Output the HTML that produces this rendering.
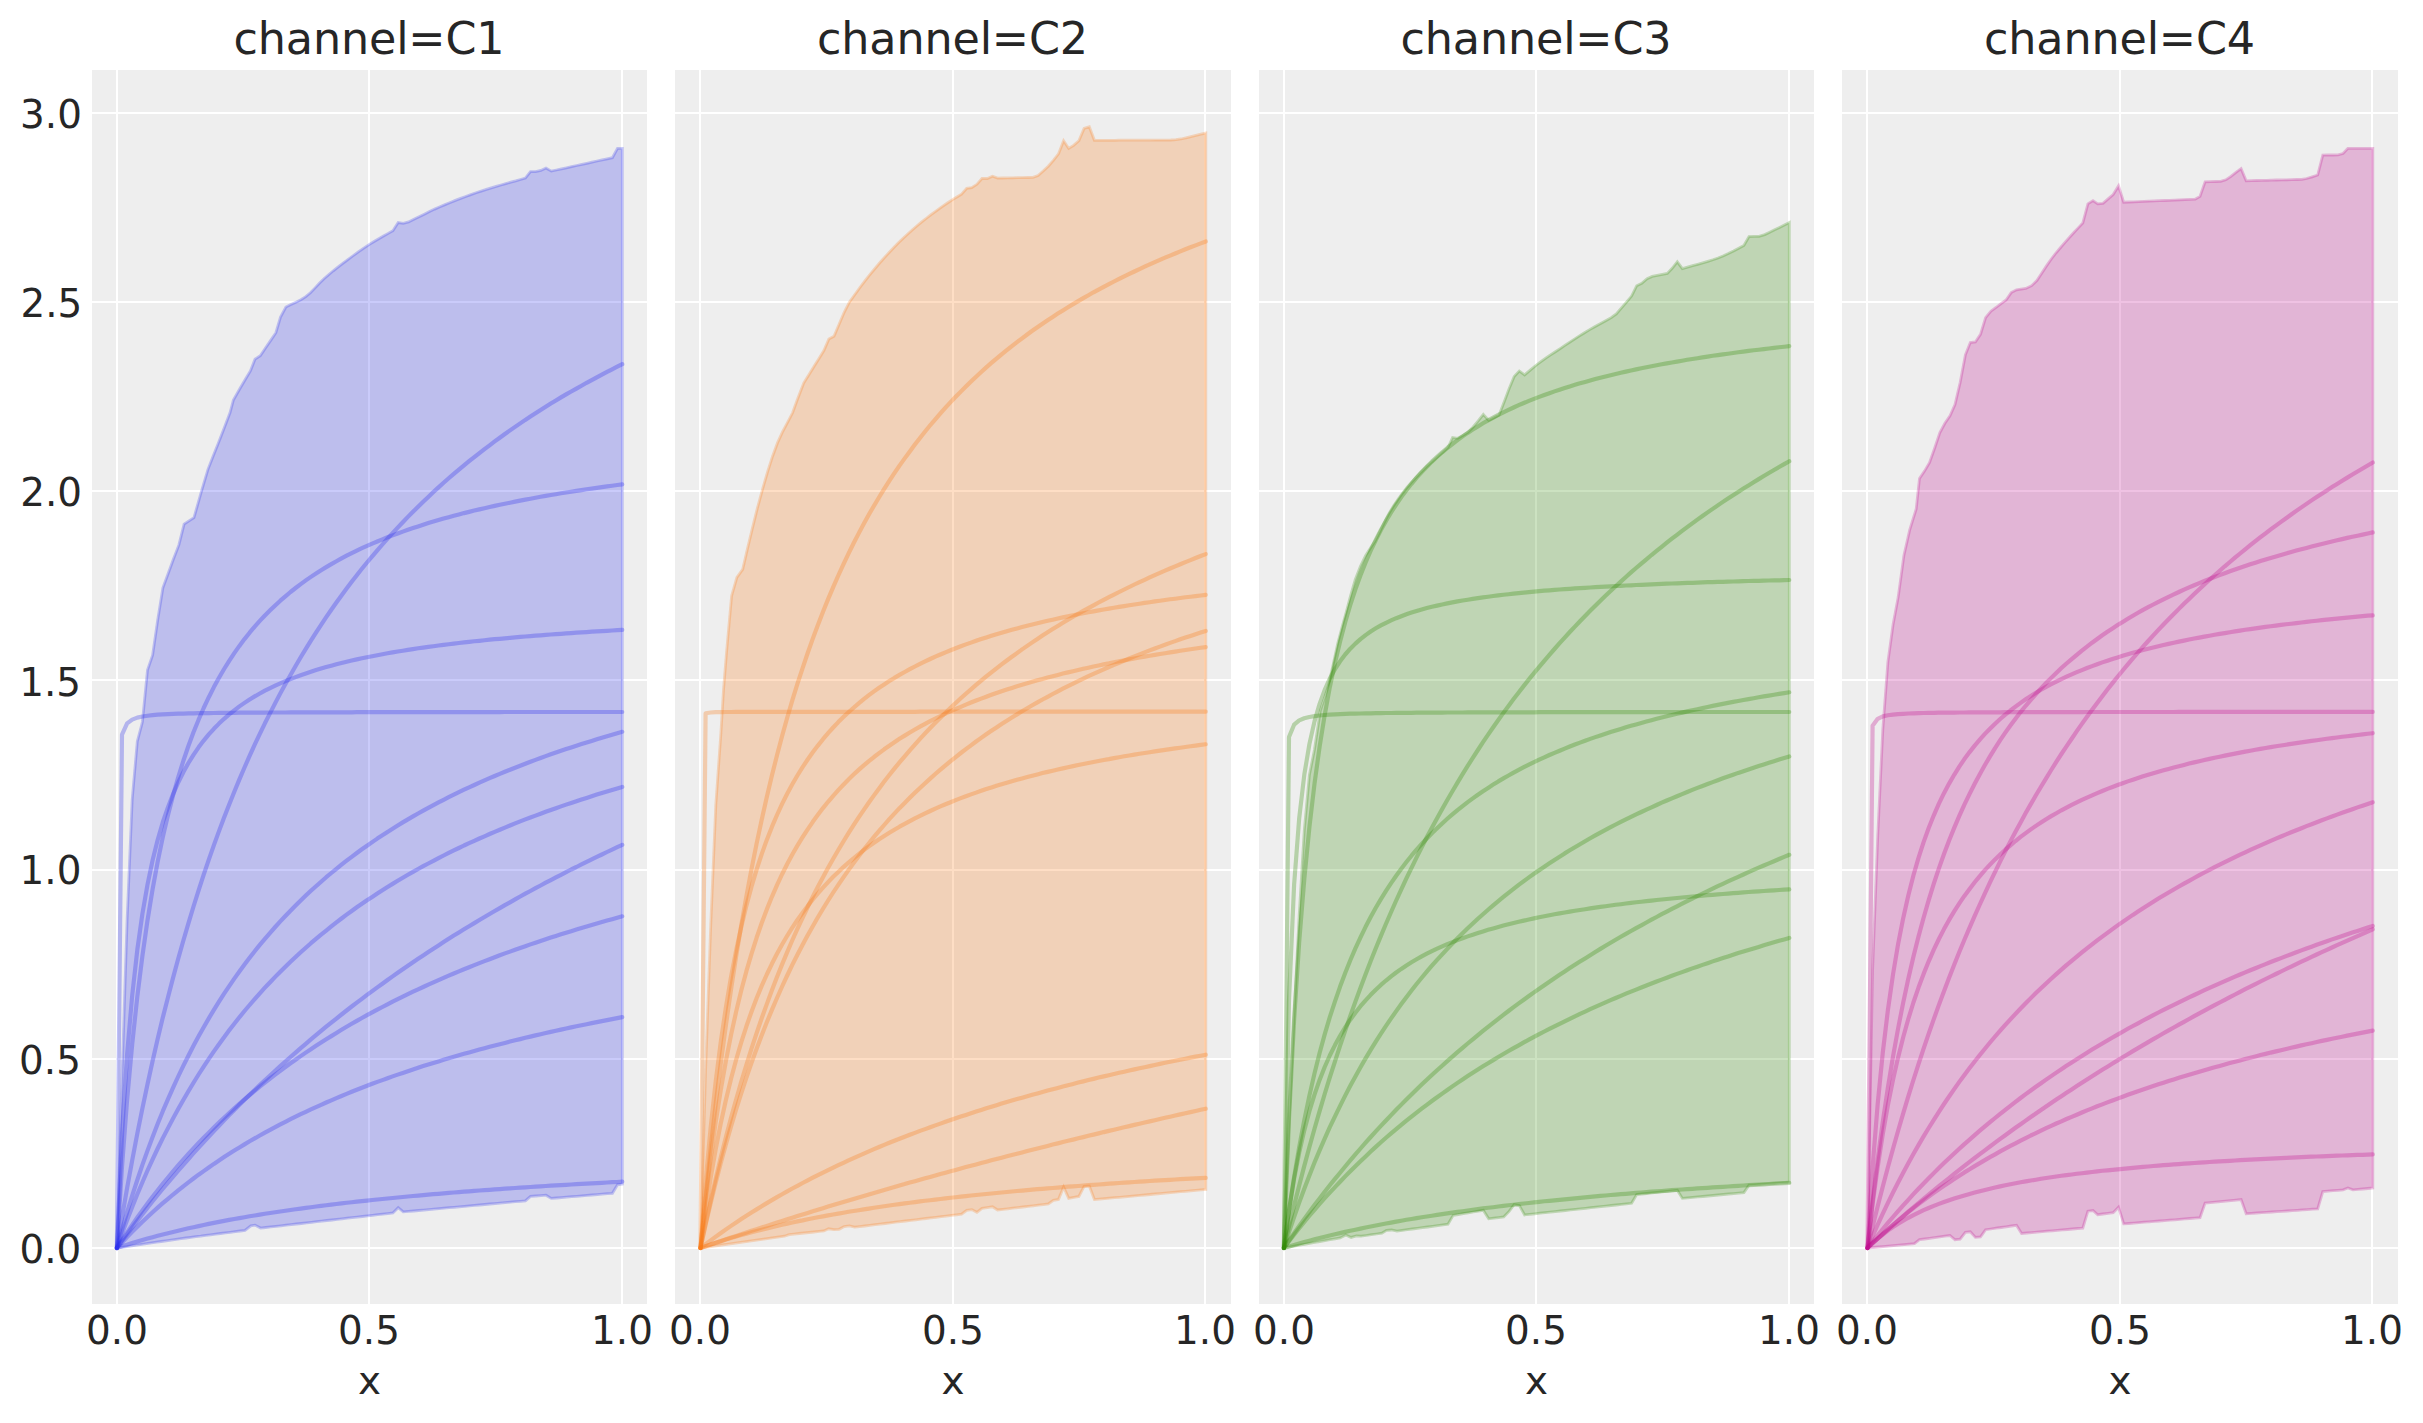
<!DOCTYPE html>
<html lang="en"><head><meta charset="utf-8"><title>Saturation curves by channel</title>
<style>html,body{margin:0;padding:0;background:#ffffff}svg{display:block}text{font-family:"DejaVu Sans","Liberation Sans",sans-serif;fill:#262626}.t{font-size:44.44px;letter-spacing:-0.14px}.k{font-size:38.89px}</style></head>
<body>
<svg width="2423" height="1423" viewBox="0 0 2423 1423">
<rect width="2423" height="1423" fill="#ffffff"/>
<g id="panel1">
<rect x="92" y="70" width="555" height="1234" fill="#eeeeee"/>
<g fill="#ffffff" shape-rendering="crispEdges"><rect x="116" y="70" width="2" height="1234"/><rect x="368" y="70" width="2" height="1234"/><rect x="621" y="70" width="2" height="1234"/><rect x="92" y="1247" width="555" height="2"/><rect x="92" y="1058" width="555" height="2"/><rect x="92" y="869" width="555" height="2"/><rect x="92" y="679" width="555" height="2"/><rect x="92" y="490" width="555" height="2"/><rect x="92" y="301" width="555" height="2"/><rect x="92" y="112" width="555" height="2"/></g>
<polygon points="116.9,1248.0 122.0,1078.0 127.1,920.0 132.2,799.3 137.3,741.5 142.4,722.0 147.5,670.1 152.6,655.1 157.7,620.0 162.9,587.8 168.0,573.9 173.1,560.0 178.9,544.9 184.1,524.1 189.0,520.9 194.0,517.6 201.0,492.8 207.9,469.6 213.1,456.3 218.4,442.9 224.2,427.9 230.0,412.8 233.4,400.0 240.4,387.7 245.4,379.3 250.4,371.0 255.0,359.2 260.3,355.7 265.5,348.0 270.7,340.4 275.9,332.7 280.5,317.0 285.9,307.0 290.9,304.6 295.9,302.2 300.9,299.7 305.8,296.6 310.4,292.8 314.9,288.1 319.4,283.2 324.0,278.7 328.6,274.7 333.3,270.8 337.9,267.2 342.5,263.6 347.2,260.1 352.7,256.0 358.3,251.9 363.8,248.1 369.4,244.4 374.1,241.5 378.8,238.7 383.5,236.0 388.2,233.4 392.9,230.7 398.2,222.6 403.3,223.3 408.6,221.9 413.9,219.3 419.1,216.8 424.3,214.2 429.5,211.6 434.7,209.1 440.0,206.8 445.1,204.6 450.3,202.5 455.4,200.4 460.6,198.4 465.8,196.5 470.9,194.6 476.1,192.8 481.2,191.1 486.4,189.4 491.3,187.9 496.2,186.4 501.0,185.0 505.9,183.6 510.8,182.2 515.7,180.9 520.5,179.5 525.4,178.1 530.5,171.6 535.6,171.6 540.9,170.4 546.0,168.1 551.3,171.1 556.4,170.0 561.5,168.9 566.6,167.8 571.7,166.6 576.8,165.5 581.9,164.4 587.0,163.3 592.0,162.2 597.1,161.0 602.2,159.9 607.3,158.8 612.4,157.7 617.5,148.4 622.3,148.4 622.3,1184.1 617.5,1184.8 612.4,1193.3 607.3,1193.7 602.2,1194.1 597.1,1194.6 592.0,1195.0 587.0,1195.4 581.9,1195.9 576.8,1196.3 571.7,1196.7 566.6,1197.1 561.5,1197.6 556.4,1198.0 551.3,1198.4 546.0,1195.2 540.9,1195.6 535.7,1196.0 530.5,1196.4 525.4,1200.8 520.3,1201.3 515.2,1201.7 510.2,1202.2 505.1,1202.6 500.0,1203.1 494.9,1203.6 489.8,1204.0 484.7,1204.5 479.6,1205.0 474.5,1205.4 469.5,1205.9 464.4,1206.4 459.3,1206.8 454.2,1207.3 449.1,1207.7 444.0,1208.2 438.9,1208.7 433.9,1209.1 428.8,1209.6 423.7,1210.1 418.6,1210.5 413.5,1211.0 408.4,1211.4 403.3,1211.9 398.2,1207.7 392.9,1213.0 387.8,1213.6 382.7,1214.2 377.7,1214.7 372.6,1215.3 367.5,1215.9 362.4,1216.5 357.3,1217.1 352.2,1217.6 347.1,1218.2 342.0,1218.8 336.9,1219.4 331.9,1220.0 326.8,1220.5 321.7,1221.1 316.6,1221.7 311.5,1222.3 306.4,1222.9 301.3,1223.5 296.2,1224.0 291.1,1224.6 286.1,1225.2 281.0,1225.8 275.9,1226.4 270.8,1226.9 265.7,1227.5 260.6,1228.1 255.0,1225.1 250.8,1225.8 245.0,1230.4 240.1,1231.0 235.1,1231.7 230.2,1232.3 225.3,1232.9 220.4,1233.5 215.4,1234.2 210.5,1234.8 205.6,1235.4 200.7,1236.1 195.7,1236.7 190.8,1237.4 185.9,1238.0 181.0,1238.7 176.0,1239.4 171.1,1240.1 166.2,1240.8 161.2,1241.5 156.3,1242.2 151.4,1242.9 146.5,1243.6 141.5,1244.4 136.6,1245.1 131.7,1245.8 126.8,1246.6 121.8,1247.3 116.9,1248.0" fill="#2a2eec" fill-opacity="0.25" stroke="#2a2eec" stroke-opacity="0.25" stroke-width="2.78" stroke-linejoin="miter"/>
<g fill="none" stroke="#2a2eec" stroke-opacity="0.3" stroke-width="4.17" stroke-linecap="round" stroke-linejoin="round">
<polyline points="116.9,1248.0 122.0,1217.3 127.1,1188.1 132.2,1160.3 137.3,1133.7 142.4,1108.4 147.5,1084.2 152.6,1061.0 157.7,1038.8 162.8,1017.6 168.0,997.2 173.1,977.6 178.2,958.8 183.3,940.7 188.4,923.3 193.5,906.5 198.6,890.3 203.7,874.7 208.8,859.7 213.9,845.1 219.0,831.1 224.1,817.5 229.2,804.4 234.3,791.7 239.4,779.4 244.5,767.5 249.6,755.9 254.7,744.7 259.8,733.9 264.9,723.3 270.1,713.1 275.2,703.1 280.3,693.4 285.4,684.0 290.5,674.9 295.6,666.0 300.7,657.3 305.8,648.9 310.9,640.6 316.0,632.6 321.1,624.8 326.2,617.2 331.3,609.8 336.4,602.5 341.5,595.5 346.6,588.6 351.7,581.8 356.8,575.2 361.9,568.8 367.0,562.5 372.2,556.4 377.3,550.4 382.4,544.5 387.5,538.7 392.6,533.1 397.7,527.6 402.8,522.2 407.9,516.9 413.0,511.8 418.1,506.7 423.2,501.7 428.3,496.9 433.4,492.1 438.5,487.4 443.6,482.8 448.7,478.3 453.8,473.9 458.9,469.6 464.0,465.4 469.1,461.2 474.3,457.1 479.4,453.1 484.5,449.1 489.6,445.3 494.7,441.4 499.8,437.7 504.9,434.0 510.0,430.4 515.1,426.9 520.2,423.4 525.3,419.9 530.4,416.6 535.5,413.3 540.6,410.0 545.7,406.8 550.8,403.6 555.9,400.5 561.0,397.4 566.1,394.4 571.2,391.5 576.4,388.6 581.5,385.7 586.6,382.8 591.7,380.1 596.8,377.3 601.9,374.6 607.0,371.9 612.1,369.3 617.2,366.7 622.3,364.2"/>
<polyline points="116.9,1248.0 122.0,1166.9 127.1,1100.1 132.2,1044.2 137.3,996.7 142.4,955.9 147.5,920.4 152.6,889.2 157.7,861.7 162.8,837.1 168.0,815.1 173.1,795.3 178.2,777.3 183.3,761.0 188.4,746.0 193.5,732.3 198.6,719.7 203.7,708.0 208.8,697.2 213.9,687.1 219.0,677.8 224.1,669.0 229.2,660.8 234.3,653.1 239.4,645.9 244.5,639.1 249.6,632.7 254.7,626.6 259.8,620.9 264.9,615.5 270.1,610.3 275.2,605.4 280.3,600.7 285.4,596.3 290.5,592.0 295.6,588.0 300.7,584.1 305.8,580.4 310.9,576.9 316.0,573.5 321.1,570.2 326.2,567.1 331.3,564.1 336.4,561.2 341.5,558.4 346.6,555.7 351.7,553.1 356.8,550.6 361.9,548.2 367.0,545.9 372.2,543.6 377.3,541.5 382.4,539.4 387.5,537.3 392.6,535.4 397.7,533.5 402.8,531.6 407.9,529.8 413.0,528.1 418.1,526.4 423.2,524.7 428.3,523.1 433.4,521.6 438.5,520.1 443.6,518.6 448.7,517.2 453.8,515.8 458.9,514.5 464.0,513.1 469.1,511.9 474.3,510.6 479.4,509.4 484.5,508.2 489.6,507.0 494.7,505.9 499.8,504.8 504.9,503.7 510.0,502.7 515.1,501.6 520.2,500.6 525.3,499.6 530.4,498.7 535.5,497.7 540.6,496.8 545.7,495.9 550.8,495.0 555.9,494.2 561.0,493.3 566.1,492.5 571.2,491.7 576.4,490.9 581.5,490.1 586.6,489.3 591.7,488.6 596.8,487.9 601.9,487.1 607.0,486.4 612.1,485.7 617.2,485.0 622.3,484.4"/>
<polyline points="116.9,1248.0 122.0,1134.2 127.1,1054.4 132.2,995.4 137.3,949.9 142.4,913.9 147.5,884.6 152.6,860.3 157.7,839.8 162.8,822.3 168.0,807.2 173.1,794.1 178.2,782.5 183.3,772.2 188.4,763.0 193.5,754.8 198.6,747.3 203.7,740.6 208.8,734.4 213.9,728.8 219.0,723.6 224.1,718.8 229.2,714.4 234.3,710.3 239.4,706.4 244.5,702.9 249.6,699.5 254.7,696.4 259.8,693.5 264.9,690.7 270.1,688.1 275.2,685.7 280.3,683.4 285.4,681.2 290.5,679.1 295.6,677.1 300.7,675.2 305.8,673.5 310.9,671.8 316.0,670.1 321.1,668.6 326.2,667.1 331.3,665.7 336.4,664.3 341.5,663.0 346.6,661.7 351.7,660.5 356.8,659.4 361.9,658.3 367.0,657.2 372.2,656.2 377.3,655.2 382.4,654.2 387.5,653.3 392.6,652.4 397.7,651.5 402.8,650.7 407.9,649.9 413.0,649.1 418.1,648.3 423.2,647.6 428.3,646.9 433.4,646.2 438.5,645.5 443.6,644.9 448.7,644.2 453.8,643.6 458.9,643.0 464.0,642.4 469.1,641.9 474.3,641.3 479.4,640.8 484.5,640.2 489.6,639.7 494.7,639.2 499.8,638.8 504.9,638.3 510.0,637.8 515.1,637.4 520.2,636.9 525.3,636.5 530.4,636.1 535.5,635.7 540.6,635.3 545.7,634.9 550.8,634.5 555.9,634.1 561.0,633.8 566.1,633.4 571.2,633.1 576.4,632.7 581.5,632.4 586.6,632.1 591.7,631.7 596.8,631.4 601.9,631.1 607.0,630.8 612.1,630.5 617.2,630.2 622.3,629.9"/>
<polyline points="116.9,1248.0 122.0,734.6 127.1,723.4 132.2,719.6 137.3,717.6 142.4,716.5 147.5,715.7 152.6,715.1 157.7,714.7 162.8,714.4 168.0,714.1 173.1,713.9 178.2,713.7 183.3,713.6 188.4,713.4 193.5,713.3 198.6,713.2 203.7,713.1 208.8,713.1 213.9,713.0 219.0,712.9 224.1,712.9 229.2,712.8 234.3,712.8 239.4,712.7 244.5,712.7 249.6,712.7 254.7,712.6 259.8,712.6 264.9,712.6 270.1,712.5 275.2,712.5 280.3,712.5 285.4,712.5 290.5,712.4 295.6,712.4 300.7,712.4 305.8,712.4 310.9,712.4 316.0,712.3 321.1,712.3 326.2,712.3 331.3,712.3 336.4,712.3 341.5,712.3 346.6,712.3 351.7,712.3 356.8,712.2 361.9,712.2 367.0,712.2 372.2,712.2 377.3,712.2 382.4,712.2 387.5,712.2 392.6,712.2 397.7,712.2 402.8,712.2 407.9,712.2 413.0,712.1 418.1,712.1 423.2,712.1 428.3,712.1 433.4,712.1 438.5,712.1 443.6,712.1 448.7,712.1 453.8,712.1 458.9,712.1 464.0,712.1 469.1,712.1 474.3,712.1 479.4,712.1 484.5,712.1 489.6,712.1 494.7,712.1 499.8,712.1 504.9,712.0 510.0,712.0 515.1,712.0 520.2,712.0 525.3,712.0 530.4,712.0 535.5,712.0 540.6,712.0 545.7,712.0 550.8,712.0 555.9,712.0 561.0,712.0 566.1,712.0 571.2,712.0 576.4,712.0 581.5,712.0 586.6,712.0 591.7,712.0 596.8,712.0 601.9,712.0 607.0,712.0 612.1,712.0 617.2,712.0 622.3,712.0"/>
<polyline points="116.9,1248.0 122.0,1229.7 127.1,1212.3 132.2,1195.7 137.3,1180.0 142.4,1164.9 147.5,1150.6 152.6,1136.9 157.7,1123.8 162.8,1111.2 168.0,1099.2 173.1,1087.6 178.2,1076.5 183.3,1065.9 188.4,1055.7 193.5,1045.8 198.6,1036.3 203.7,1027.2 208.8,1018.4 213.9,1009.9 219.0,1001.7 224.1,993.7 229.2,986.1 234.3,978.6 239.4,971.5 244.5,964.5 249.6,957.8 254.7,951.3 259.8,944.9 264.9,938.8 270.1,932.8 275.2,927.0 280.3,921.4 285.4,916.0 290.5,910.7 295.6,905.5 300.7,900.5 305.8,895.6 310.9,890.8 316.0,886.2 321.1,881.7 326.2,877.2 331.3,873.0 336.4,868.8 341.5,864.7 346.6,860.7 351.7,856.8 356.8,853.0 361.9,849.3 367.0,845.7 372.2,842.1 377.3,838.6 382.4,835.3 387.5,831.9 392.6,828.7 397.7,825.5 402.8,822.4 407.9,819.4 413.0,816.4 418.1,813.5 423.2,810.6 428.3,807.8 433.4,805.1 438.5,802.4 443.6,799.8 448.7,797.2 453.8,794.7 458.9,792.2 464.0,789.7 469.1,787.3 474.3,785.0 479.4,782.7 484.5,780.4 489.6,778.2 494.7,776.0 499.8,773.9 504.9,771.8 510.0,769.7 515.1,767.7 520.2,765.7 525.3,763.7 530.4,761.8 535.5,759.9 540.6,758.0 545.7,756.1 550.8,754.3 555.9,752.6 561.0,750.8 566.1,749.1 571.2,747.4 576.4,745.7 581.5,744.1 586.6,742.5 591.7,740.9 596.8,739.3 601.9,737.7 607.0,736.2 612.1,734.7 617.2,733.2 622.3,731.8"/>
<polyline points="116.9,1248.0 122.0,1233.7 127.1,1220.1 132.2,1206.9 137.3,1194.3 142.4,1182.2 147.5,1170.5 152.6,1159.3 157.7,1148.5 162.8,1138.1 168.0,1128.1 173.1,1118.4 178.2,1109.0 183.3,1099.9 188.4,1091.2 193.5,1082.7 198.6,1074.5 203.7,1066.6 208.8,1058.9 213.9,1051.4 219.0,1044.2 224.1,1037.2 229.2,1030.3 234.3,1023.7 239.4,1017.3 244.5,1011.0 249.6,1005.0 254.7,999.1 259.8,993.3 264.9,987.7 270.1,982.2 275.2,976.9 280.3,971.7 285.4,966.7 290.5,961.8 295.6,957.0 300.7,952.3 305.8,947.7 310.9,943.2 316.0,938.9 321.1,934.6 326.2,930.5 331.3,926.4 336.4,922.4 341.5,918.5 346.6,914.7 351.7,911.0 356.8,907.3 361.9,903.8 367.0,900.3 372.2,896.9 377.3,893.5 382.4,890.2 387.5,887.0 392.6,883.9 397.7,880.8 402.8,877.8 407.9,874.8 413.0,871.9 418.1,869.0 423.2,866.2 428.3,863.5 433.4,860.8 438.5,858.1 443.6,855.5 448.7,852.9 453.8,850.4 458.9,848.0 464.0,845.5 469.1,843.2 474.3,840.8 479.4,838.5 484.5,836.3 489.6,834.0 494.7,831.8 499.8,829.7 504.9,827.6 510.0,825.5 515.1,823.4 520.2,821.4 525.3,819.4 530.4,817.5 535.5,815.6 540.6,813.7 545.7,811.8 550.8,810.0 555.9,808.2 561.0,806.4 566.1,804.6 571.2,802.9 576.4,801.2 581.5,799.5 586.6,797.9 591.7,796.2 596.8,794.6 601.9,793.0 607.0,791.5 612.1,789.9 617.2,788.4 622.3,786.9"/>
<polyline points="116.9,1248.0 122.0,1241.0 127.1,1234.2 132.2,1227.4 137.3,1220.8 142.4,1214.2 147.5,1207.7 152.6,1201.3 157.7,1195.0 162.8,1188.8 168.0,1182.7 173.1,1176.6 178.2,1170.7 183.3,1164.8 188.4,1159.0 193.5,1153.2 198.6,1147.6 203.7,1142.0 208.8,1136.5 213.9,1131.0 219.0,1125.7 224.1,1120.4 229.2,1115.1 234.3,1110.0 239.4,1104.8 244.5,1099.8 249.6,1094.8 254.7,1089.9 259.8,1085.0 264.9,1080.2 270.1,1075.5 275.2,1070.8 280.3,1066.1 285.4,1061.6 290.5,1057.0 295.6,1052.6 300.7,1048.1 305.8,1043.8 310.9,1039.4 316.0,1035.2 321.1,1030.9 326.2,1026.7 331.3,1022.6 336.4,1018.5 341.5,1014.5 346.6,1010.5 351.7,1006.5 356.8,1002.6 361.9,998.8 367.0,994.9 372.2,991.1 377.3,987.4 382.4,983.7 387.5,980.0 392.6,976.4 397.7,972.8 402.8,969.2 407.9,965.7 413.0,962.2 418.1,958.8 423.2,955.4 428.3,952.0 433.4,948.7 438.5,945.4 443.6,942.1 448.7,938.8 453.8,935.6 458.9,932.4 464.0,929.3 469.1,926.2 474.3,923.1 479.4,920.0 484.5,917.0 489.6,914.0 494.7,911.0 499.8,908.1 504.9,905.1 510.0,902.3 515.1,899.4 520.2,896.5 525.3,893.7 530.4,891.0 535.5,888.2 540.6,885.5 545.7,882.7 550.8,880.1 555.9,877.4 561.0,874.8 566.1,872.1 571.2,869.5 576.4,867.0 581.5,864.4 586.6,861.9 591.7,859.4 596.8,856.9 601.9,854.5 607.0,852.0 612.1,849.6 617.2,847.2 622.3,844.8"/>
<polyline points="116.9,1248.0 122.0,1240.1 127.1,1232.3 132.2,1224.8 137.3,1217.5 142.4,1210.4 147.5,1203.5 152.6,1196.7 157.7,1190.2 162.8,1183.8 168.0,1177.5 173.1,1171.4 178.2,1165.4 183.3,1159.6 188.4,1154.0 193.5,1148.4 198.6,1143.0 203.7,1137.7 208.8,1132.6 213.9,1127.5 219.0,1122.6 224.1,1117.7 229.2,1113.0 234.3,1108.4 239.4,1103.8 244.5,1099.4 249.6,1095.1 254.7,1090.8 259.8,1086.6 264.9,1082.6 270.1,1078.5 275.2,1074.6 280.3,1070.8 285.4,1067.0 290.5,1063.3 295.6,1059.7 300.7,1056.1 305.8,1052.6 310.9,1049.2 316.0,1045.8 321.1,1042.5 326.2,1039.2 331.3,1036.1 336.4,1032.9 341.5,1029.8 346.6,1026.8 351.7,1023.8 356.8,1020.9 361.9,1018.0 367.0,1015.2 372.2,1012.4 377.3,1009.7 382.4,1007.0 387.5,1004.4 392.6,1001.7 397.7,999.2 402.8,996.7 407.9,994.2 413.0,991.7 418.1,989.3 423.2,987.0 428.3,984.6 433.4,982.3 438.5,980.1 443.6,977.8 448.7,975.6 453.8,973.5 458.9,971.3 464.0,969.2 469.1,967.2 474.3,965.1 479.4,963.1 484.5,961.1 489.6,959.2 494.7,957.2 499.8,955.3 504.9,953.4 510.0,951.6 515.1,949.8 520.2,948.0 525.3,946.2 530.4,944.4 535.5,942.7 540.6,941.0 545.7,939.3 550.8,937.6 555.9,936.0 561.0,934.3 566.1,932.7 571.2,931.2 576.4,929.6 581.5,928.0 586.6,926.5 591.7,925.0 596.8,923.5 601.9,922.0 607.0,920.6 612.1,919.2 617.2,917.7 622.3,916.3"/>
<polyline points="116.9,1248.0 122.0,1242.5 127.1,1237.1 132.2,1231.8 137.3,1226.7 142.4,1221.8 147.5,1216.9 152.6,1212.2 157.7,1207.6 162.8,1203.2 168.0,1198.8 173.1,1194.5 178.2,1190.4 183.3,1186.3 188.4,1182.4 193.5,1178.5 198.6,1174.7 203.7,1171.1 208.8,1167.5 213.9,1163.9 219.0,1160.5 224.1,1157.1 229.2,1153.8 234.3,1150.6 239.4,1147.5 244.5,1144.4 249.6,1141.3 254.7,1138.4 259.8,1135.5 264.9,1132.6 270.1,1129.8 275.2,1127.1 280.3,1124.4 285.4,1121.8 290.5,1119.2 295.6,1116.7 300.7,1114.2 305.8,1111.8 310.9,1109.4 316.0,1107.1 321.1,1104.8 326.2,1102.5 331.3,1100.3 336.4,1098.1 341.5,1096.0 346.6,1093.9 351.7,1091.8 356.8,1089.7 361.9,1087.7 367.0,1085.8 372.2,1083.8 377.3,1081.9 382.4,1080.1 387.5,1078.2 392.6,1076.4 397.7,1074.6 402.8,1072.9 407.9,1071.2 413.0,1069.5 418.1,1067.8 423.2,1066.1 428.3,1064.5 433.4,1062.9 438.5,1061.4 443.6,1059.8 448.7,1058.3 453.8,1056.8 458.9,1055.3 464.0,1053.8 469.1,1052.4 474.3,1051.0 479.4,1049.6 484.5,1048.2 489.6,1046.8 494.7,1045.5 499.8,1044.2 504.9,1042.9 510.0,1041.6 515.1,1040.3 520.2,1039.1 525.3,1037.8 530.4,1036.6 535.5,1035.4 540.6,1034.2 545.7,1033.0 550.8,1031.9 555.9,1030.7 561.0,1029.6 566.1,1028.5 571.2,1027.4 576.4,1026.3 581.5,1025.2 586.6,1024.2 591.7,1023.1 596.8,1022.1 601.9,1021.1 607.0,1020.1 612.1,1019.1 617.2,1018.1 622.3,1017.1"/>
<polyline points="116.9,1248.0 122.0,1246.3 127.1,1244.7 132.2,1243.1 137.3,1241.5 142.4,1240.0 147.5,1238.6 152.6,1237.2 157.7,1235.8 162.8,1234.5 168.0,1233.2 173.1,1231.9 178.2,1230.7 183.3,1229.5 188.4,1228.3 193.5,1227.2 198.6,1226.1 203.7,1225.0 208.8,1223.9 213.9,1222.9 219.0,1221.9 224.1,1220.9 229.2,1219.9 234.3,1219.0 239.4,1218.1 244.5,1217.2 249.6,1216.3 254.7,1215.5 259.8,1214.6 264.9,1213.8 270.1,1213.0 275.2,1212.3 280.3,1211.5 285.4,1210.7 290.5,1210.0 295.6,1209.3 300.7,1208.6 305.8,1207.9 310.9,1207.2 316.0,1206.5 321.1,1205.9 326.2,1205.3 331.3,1204.6 336.4,1204.0 341.5,1203.4 346.6,1202.8 351.7,1202.2 356.8,1201.7 361.9,1201.1 367.0,1200.6 372.2,1200.0 377.3,1199.5 382.4,1199.0 387.5,1198.5 392.6,1198.0 397.7,1197.5 402.8,1197.0 407.9,1196.5 413.0,1196.0 418.1,1195.6 423.2,1195.1 428.3,1194.7 433.4,1194.2 438.5,1193.8 443.6,1193.4 448.7,1192.9 453.8,1192.5 458.9,1192.1 464.0,1191.7 469.1,1191.3 474.3,1190.9 479.4,1190.5 484.5,1190.2 489.6,1189.8 494.7,1189.4 499.8,1189.1 504.9,1188.7 510.0,1188.4 515.1,1188.0 520.2,1187.7 525.3,1187.3 530.4,1187.0 535.5,1186.7 540.6,1186.3 545.7,1186.0 550.8,1185.7 555.9,1185.4 561.0,1185.1 566.1,1184.8 571.2,1184.5 576.4,1184.2 581.5,1183.9 586.6,1183.6 591.7,1183.3 596.8,1183.1 601.9,1182.8 607.0,1182.5 612.1,1182.2 617.2,1182.0 622.3,1181.7"/>
</g>
<text class="t" x="369.0" y="54" text-anchor="middle">channel=C1</text>
<text class="k" x="117" y="1343.5" text-anchor="middle">0.0</text><text class="k" x="369" y="1343.5" text-anchor="middle">0.5</text><text class="k" x="622" y="1343.5" text-anchor="middle">1.0</text>
<text class="k" x="369.5" y="1393.8" text-anchor="middle">x</text>
</g>
<g id="panel2">
<rect x="675" y="70" width="556" height="1234" fill="#eeeeee"/>
<g fill="#ffffff" shape-rendering="crispEdges"><rect x="699" y="70" width="2" height="1234"/><rect x="952" y="70" width="2" height="1234"/><rect x="1204" y="70" width="2" height="1234"/><rect x="675" y="1247" width="556" height="2"/><rect x="675" y="1058" width="556" height="2"/><rect x="675" y="869" width="556" height="2"/><rect x="675" y="679" width="556" height="2"/><rect x="675" y="490" width="556" height="2"/><rect x="675" y="301" width="556" height="2"/><rect x="675" y="112" width="556" height="2"/></g>
<polygon points="700.5,1248.0 705.6,1070.0 710.7,926.0 715.8,805.0 720.9,733.0 723.5,689.9 726.5,652.8 731.6,595.9 736.9,577.4 742.7,569.3 747.3,549.4 752.0,529.9 757.2,508.9 762.5,489.3 767.5,472.2 772.5,456.4 777.5,442.9 782.5,431.9 787.6,422.3 792.6,412.8 797.2,400.0 803.7,383.0 808.6,375.2 813.5,367.3 818.7,359.0 823.9,350.6 828.9,339.0 834.0,336.2 839.1,324.2 844.2,312.3 849.5,301.9 854.9,294.5 860.3,287.0 865.7,279.9 870.3,274.1 875.0,268.5 879.6,263.0 884.3,257.8 888.9,252.7 893.6,247.8 898.2,243.1 902.9,238.6 907.5,234.2 912.2,230.0 916.8,226.0 921.4,222.2 926.1,218.5 930.7,214.9 936.3,210.8 941.8,206.8 947.4,203.0 952.9,199.4 957.3,196.7 961.6,194.1 966.7,188.3 971.8,187.6 976.9,184.3 982.0,178.5 987.4,178.5 992.5,176.2 997.6,178.1 1002.6,178.0 1007.7,177.9 1012.8,177.8 1017.8,177.7 1022.9,177.6 1028.0,177.5 1033.0,177.4 1038.1,175.5 1043.2,171.0 1048.3,166.2 1053.4,160.3 1058.5,153.9 1063.6,140.7 1068.7,148.4 1073.6,145.4 1078.9,140.7 1084.1,128.4 1089.3,126.8 1094.4,140.3 1099.5,140.3 1104.6,140.3 1109.7,140.3 1114.8,140.3 1119.9,140.2 1125.0,140.2 1130.1,140.2 1135.2,140.2 1140.3,140.2 1145.4,140.2 1150.5,140.2 1155.6,140.1 1160.7,140.1 1165.8,140.1 1170.9,140.0 1175.9,139.7 1180.9,139.0 1185.9,137.9 1190.9,136.7 1195.9,135.4 1200.9,134.2 1205.8,133.1 1205.8,1189.4 1200.8,1189.9 1195.7,1190.3 1190.6,1190.8 1185.6,1191.3 1180.5,1191.7 1175.4,1192.2 1170.4,1192.6 1165.3,1193.1 1160.2,1193.6 1155.2,1194.0 1150.1,1194.5 1145.0,1195.0 1140.0,1195.4 1134.9,1195.9 1129.8,1196.4 1124.8,1196.8 1119.7,1197.3 1114.6,1197.7 1109.6,1198.2 1104.5,1198.7 1099.4,1199.1 1094.4,1199.6 1089.3,1185.9 1084.1,1186.4 1078.9,1196.4 1073.8,1197.4 1068.7,1198.4 1063.6,1187.1 1058.5,1199.4 1053.4,1200.3 1048.3,1204.0 1043.3,1204.6 1038.2,1205.2 1033.1,1205.8 1028.0,1206.4 1023.0,1207.0 1017.9,1207.6 1012.8,1208.2 1007.7,1208.8 1002.7,1209.4 997.6,1210.0 992.5,1206.8 987.2,1207.6 982.0,1208.4 976.9,1212.3 971.8,1209.6 966.7,1210.3 961.6,1214.2 956.5,1214.8 951.4,1215.4 946.3,1216.1 941.2,1216.7 936.1,1217.3 931.0,1217.9 925.9,1218.5 920.8,1219.2 915.7,1219.8 910.6,1220.4 905.5,1221.0 900.4,1221.6 895.3,1222.2 890.2,1222.9 885.1,1223.5 880.0,1224.1 875.0,1224.7 869.9,1225.3 864.8,1226.0 859.7,1226.6 854.6,1227.2 849.5,1225.8 844.2,1226.5 839.1,1229.3 834.0,1229.7 828.6,1228.8 823.9,1230.9 819.0,1231.4 814.0,1232.0 809.0,1232.5 804.0,1233.0 799.1,1233.5 794.1,1234.1 789.1,1234.6 784.5,1236.2 779.3,1236.9 774.0,1237.7 768.8,1238.4 763.5,1239.2 758.2,1239.9 753.0,1240.6 747.7,1241.4 742.5,1242.1 737.2,1242.8 732.0,1243.6 726.7,1244.3 721.5,1245.0 716.2,1245.8 711.0,1246.5 705.7,1247.3 700.5,1248.0" fill="#fa7c17" fill-opacity="0.25" stroke="#fa7c17" stroke-opacity="0.25" stroke-width="2.78" stroke-linejoin="miter"/>
<g fill="none" stroke="#fa7c17" stroke-opacity="0.3" stroke-width="4.17" stroke-linecap="round" stroke-linejoin="round">
<polyline points="700.5,1248.0 705.6,1195.7 710.7,1147.7 715.8,1103.4 720.9,1062.4 726.0,1024.4 731.1,989.0 736.2,956.0 741.3,925.2 746.4,896.3 751.5,869.2 756.6,843.7 761.7,819.7 766.8,797.0 771.9,775.6 777.0,755.3 782.1,736.0 787.2,717.8 792.3,700.4 797.4,683.8 802.6,668.1 807.7,653.0 812.8,638.6 817.9,624.9 823.0,611.7 828.1,599.1 833.2,587.1 838.3,575.5 843.4,564.3 848.5,553.6 853.6,543.3 858.7,533.4 863.8,523.8 868.9,514.6 874.0,505.7 879.1,497.2 884.2,488.9 889.3,480.9 894.4,473.1 899.5,465.6 904.7,458.4 909.8,451.4 914.9,444.5 920.0,437.9 925.1,431.5 930.2,425.3 935.3,419.3 940.4,413.4 945.5,407.7 950.6,402.2 955.7,396.8 960.8,391.6 965.9,386.5 971.0,381.5 976.1,376.7 981.2,372.0 986.3,367.4 991.4,362.9 996.5,358.6 1001.6,354.3 1006.8,350.2 1011.9,346.1 1017.0,342.2 1022.1,338.3 1027.2,334.5 1032.3,330.8 1037.4,327.2 1042.5,323.7 1047.6,320.3 1052.7,316.9 1057.8,313.6 1062.9,310.4 1068.0,307.2 1073.1,304.1 1078.2,301.1 1083.3,298.1 1088.4,295.2 1093.5,292.3 1098.6,289.6 1103.7,286.8 1108.9,284.1 1114.0,281.5 1119.1,278.9 1124.2,276.4 1129.3,273.9 1134.4,271.5 1139.5,269.1 1144.6,266.7 1149.7,264.4 1154.8,262.1 1159.9,259.9 1165.0,257.7 1170.1,255.6 1175.2,253.5 1180.3,251.4 1185.4,249.3 1190.5,247.3 1195.6,245.4 1200.7,243.4 1205.8,241.5"/>
<polyline points="700.5,1248.0 705.6,1223.5 710.7,1200.2 715.8,1178.1 720.9,1157.0 726.0,1136.8 731.1,1117.6 736.2,1099.2 741.3,1081.7 746.4,1064.8 751.5,1048.7 756.6,1033.2 761.7,1018.3 766.8,1004.1 771.9,990.3 777.0,977.1 782.1,964.4 787.2,952.1 792.3,940.2 797.4,928.8 802.6,917.8 807.7,907.1 812.8,896.8 817.9,886.8 823.0,877.2 828.1,867.8 833.2,858.8 838.3,850.0 843.4,841.5 848.5,833.2 853.6,825.2 858.7,817.4 863.8,809.9 868.9,802.5 874.0,795.4 879.1,788.4 884.2,781.6 889.3,775.0 894.4,768.6 899.5,762.4 904.7,756.3 909.8,750.4 914.9,744.6 920.0,738.9 925.1,733.4 930.2,728.0 935.3,722.8 940.4,717.7 945.5,712.7 950.6,707.8 955.7,703.0 960.8,698.3 965.9,693.7 971.0,689.3 976.1,684.9 981.2,680.6 986.3,676.4 991.4,672.3 996.5,668.3 1001.6,664.4 1006.8,660.5 1011.9,656.8 1017.0,653.1 1022.1,649.4 1027.2,645.9 1032.3,642.4 1037.4,639.0 1042.5,635.6 1047.6,632.3 1052.7,629.1 1057.8,625.9 1062.9,622.8 1068.0,619.8 1073.1,616.8 1078.2,613.8 1083.3,610.9 1088.4,608.1 1093.5,605.3 1098.6,602.5 1103.7,599.8 1108.9,597.2 1114.0,594.6 1119.1,592.0 1124.2,589.5 1129.3,587.0 1134.4,584.5 1139.5,582.1 1144.6,579.8 1149.7,577.4 1154.8,575.1 1159.9,572.9 1165.0,570.7 1170.1,568.5 1175.2,566.3 1180.3,564.2 1185.4,562.1 1190.5,560.1 1195.6,558.0 1200.7,556.0 1205.8,554.1"/>
<polyline points="700.5,1248.0 705.6,1182.0 710.7,1127.1 715.8,1080.7 720.9,1041.0 726.0,1006.7 731.1,976.6 736.2,950.2 741.3,926.7 746.4,905.6 751.5,886.7 756.6,869.6 761.7,854.1 766.8,839.9 771.9,826.9 777.0,815.0 782.1,803.9 787.2,793.7 792.3,784.3 797.4,775.5 802.6,767.2 807.7,759.5 812.8,752.3 817.9,745.6 823.0,739.2 828.1,733.2 833.2,727.5 838.3,722.1 843.4,717.1 848.5,712.2 853.6,707.7 858.7,703.3 863.8,699.2 868.9,695.2 874.0,691.4 879.1,687.8 884.2,684.4 889.3,681.1 894.4,677.9 899.5,674.9 904.7,672.0 909.8,669.2 914.9,666.5 920.0,663.9 925.1,661.4 930.2,659.0 935.3,656.7 940.4,654.5 945.5,652.3 950.6,650.2 955.7,648.2 960.8,646.3 965.9,644.4 971.0,642.6 976.1,640.8 981.2,639.1 986.3,637.4 991.4,635.8 996.5,634.2 1001.6,632.7 1006.8,631.2 1011.9,629.8 1017.0,628.4 1022.1,627.1 1027.2,625.7 1032.3,624.5 1037.4,623.2 1042.5,622.0 1047.6,620.8 1052.7,619.7 1057.8,618.5 1062.9,617.4 1068.0,616.4 1073.1,615.3 1078.2,614.3 1083.3,613.3 1088.4,612.3 1093.5,611.4 1098.6,610.4 1103.7,609.5 1108.9,608.6 1114.0,607.8 1119.1,606.9 1124.2,606.1 1129.3,605.3 1134.4,604.5 1139.5,603.7 1144.6,602.9 1149.7,602.2 1154.8,601.4 1159.9,600.7 1165.0,600.0 1170.1,599.3 1175.2,598.7 1180.3,598.0 1185.4,597.3 1190.5,596.7 1195.6,596.1 1200.7,595.5 1205.8,594.9"/>
<polyline points="700.5,1248.0 705.6,1224.9 710.7,1203.0 715.8,1182.3 720.9,1162.6 726.0,1143.9 731.1,1126.1 736.2,1109.2 741.3,1093.0 746.4,1077.6 751.5,1062.9 756.6,1048.8 761.7,1035.3 766.8,1022.3 771.9,1009.9 777.0,998.0 782.1,986.5 787.2,975.5 792.3,964.9 797.4,954.7 802.6,944.8 807.7,935.3 812.8,926.2 817.9,917.3 823.0,908.8 828.1,900.5 833.2,892.5 838.3,884.8 843.4,877.3 848.5,870.1 853.6,863.0 858.7,856.2 863.8,849.6 868.9,843.2 874.0,836.9 879.1,830.9 884.2,825.0 889.3,819.2 894.4,813.7 899.5,808.2 904.7,803.0 909.8,797.8 914.9,792.8 920.0,787.9 925.1,783.2 930.2,778.6 935.3,774.0 940.4,769.6 945.5,765.3 950.6,761.1 955.7,757.0 960.8,753.0 965.9,749.1 971.0,745.3 976.1,741.5 981.2,737.9 986.3,734.3 991.4,730.8 996.5,727.4 1001.6,724.0 1006.8,720.7 1011.9,717.5 1017.0,714.4 1022.1,711.3 1027.2,708.3 1032.3,705.3 1037.4,702.4 1042.5,699.5 1047.6,696.8 1052.7,694.0 1057.8,691.3 1062.9,688.7 1068.0,686.1 1073.1,683.6 1078.2,681.1 1083.3,678.6 1088.4,676.2 1093.5,673.9 1098.6,671.6 1103.7,669.3 1108.9,667.0 1114.0,664.8 1119.1,662.7 1124.2,660.6 1129.3,658.5 1134.4,656.4 1139.5,654.4 1144.6,652.4 1149.7,650.4 1154.8,648.5 1159.9,646.6 1165.0,644.8 1170.1,642.9 1175.2,641.1 1180.3,639.3 1185.4,637.6 1190.5,635.9 1195.6,634.2 1200.7,632.5 1205.8,630.9"/>
<polyline points="700.5,1248.0 705.6,1199.8 710.7,1158.0 715.8,1121.4 720.9,1089.1 726.0,1060.3 731.1,1034.6 736.2,1011.4 741.3,990.3 746.4,971.2 751.5,953.8 756.6,937.8 761.7,923.0 766.8,909.4 771.9,896.8 777.0,885.1 782.1,874.2 787.2,864.0 792.3,854.5 797.4,845.6 802.6,837.2 807.7,829.3 812.8,821.8 817.9,814.8 823.0,808.1 828.1,801.8 833.2,795.8 838.3,790.1 843.4,784.7 848.5,779.5 853.6,774.6 858.7,769.9 863.8,765.4 868.9,761.1 874.0,757.0 879.1,753.1 884.2,749.3 889.3,745.7 894.4,742.2 899.5,738.8 904.7,735.6 909.8,732.5 914.9,729.5 920.0,726.6 925.1,723.8 930.2,721.1 935.3,718.5 940.4,716.0 945.5,713.6 950.6,711.2 955.7,709.0 960.8,706.8 965.9,704.6 971.0,702.5 976.1,700.5 981.2,698.6 986.3,696.7 991.4,694.8 996.5,693.0 1001.6,691.3 1006.8,689.6 1011.9,687.9 1017.0,686.3 1022.1,684.8 1027.2,683.3 1032.3,681.8 1037.4,680.3 1042.5,678.9 1047.6,677.5 1052.7,676.2 1057.8,674.9 1062.9,673.6 1068.0,672.4 1073.1,671.2 1078.2,670.0 1083.3,668.8 1088.4,667.7 1093.5,666.5 1098.6,665.5 1103.7,664.4 1108.9,663.4 1114.0,662.3 1119.1,661.3 1124.2,660.4 1129.3,659.4 1134.4,658.5 1139.5,657.5 1144.6,656.6 1149.7,655.8 1154.8,654.9 1159.9,654.0 1165.0,653.2 1170.1,652.4 1175.2,651.6 1180.3,650.8 1185.4,650.0 1190.5,649.3 1195.6,648.5 1200.7,647.8 1205.8,647.1"/>
<polyline points="700.5,1248.0 705.6,1210.6 710.7,1177.7 715.8,1148.7 720.9,1122.7 726.0,1099.5 731.1,1078.5 736.2,1059.5 741.3,1042.1 746.4,1026.3 751.5,1011.7 756.6,998.3 761.7,985.9 766.8,974.5 771.9,963.8 777.0,953.8 782.1,944.5 787.2,935.8 792.3,927.7 797.4,920.0 802.6,912.7 807.7,905.9 812.8,899.5 817.9,893.4 823.0,887.6 828.1,882.1 833.2,876.8 838.3,871.9 843.4,867.1 848.5,862.6 853.6,858.3 858.7,854.2 863.8,850.2 868.9,846.4 874.0,842.8 879.1,839.3 884.2,836.0 889.3,832.8 894.4,829.7 899.5,826.7 904.7,823.9 909.8,821.1 914.9,818.4 920.0,815.9 925.1,813.4 930.2,811.0 935.3,808.7 940.4,806.4 945.5,804.3 950.6,802.2 955.7,800.1 960.8,798.1 965.9,796.2 971.0,794.4 976.1,792.6 981.2,790.8 986.3,789.1 991.4,787.5 996.5,785.8 1001.6,784.3 1006.8,782.8 1011.9,781.3 1017.0,779.8 1022.1,778.4 1027.2,777.1 1032.3,775.7 1037.4,774.4 1042.5,773.1 1047.6,771.9 1052.7,770.7 1057.8,769.5 1062.9,768.4 1068.0,767.2 1073.1,766.1 1078.2,765.0 1083.3,764.0 1088.4,763.0 1093.5,762.0 1098.6,761.0 1103.7,760.0 1108.9,759.1 1114.0,758.1 1119.1,757.2 1124.2,756.3 1129.3,755.5 1134.4,754.6 1139.5,753.8 1144.6,753.0 1149.7,752.2 1154.8,751.4 1159.9,750.6 1165.0,749.9 1170.1,749.1 1175.2,748.4 1180.3,747.7 1185.4,747.0 1190.5,746.3 1195.6,745.6 1200.7,744.9 1205.8,744.3"/>
<polyline points="700.5,1248.0 705.6,713.3 710.7,712.5 715.8,712.2 720.9,712.1 726.0,712.0 731.1,712.0 736.2,711.9 741.3,711.9 746.4,711.9 751.5,711.9 756.6,711.9 761.7,711.8 766.8,711.8 771.9,711.8 777.0,711.8 782.1,711.8 787.2,711.8 792.3,711.8 797.4,711.8 802.6,711.8 807.7,711.8 812.8,711.8 817.9,711.8 823.0,711.8 828.1,711.8 833.2,711.8 838.3,711.8 843.4,711.8 848.5,711.8 853.6,711.8 858.7,711.8 863.8,711.8 868.9,711.8 874.0,711.8 879.1,711.8 884.2,711.8 889.3,711.8 894.4,711.8 899.5,711.8 904.7,711.8 909.8,711.8 914.9,711.8 920.0,711.7 925.1,711.7 930.2,711.7 935.3,711.7 940.4,711.7 945.5,711.7 950.6,711.7 955.7,711.7 960.8,711.7 965.9,711.7 971.0,711.7 976.1,711.7 981.2,711.7 986.3,711.7 991.4,711.7 996.5,711.7 1001.6,711.7 1006.8,711.7 1011.9,711.7 1017.0,711.7 1022.1,711.7 1027.2,711.7 1032.3,711.7 1037.4,711.7 1042.5,711.7 1047.6,711.7 1052.7,711.7 1057.8,711.7 1062.9,711.7 1068.0,711.7 1073.1,711.7 1078.2,711.7 1083.3,711.7 1088.4,711.7 1093.5,711.7 1098.6,711.7 1103.7,711.7 1108.9,711.7 1114.0,711.7 1119.1,711.7 1124.2,711.7 1129.3,711.7 1134.4,711.7 1139.5,711.7 1144.6,711.7 1149.7,711.7 1154.8,711.7 1159.9,711.7 1165.0,711.7 1170.1,711.7 1175.2,711.7 1180.3,711.7 1185.4,711.7 1190.5,711.7 1195.6,711.7 1200.7,711.7 1205.8,711.7"/>
<polyline points="700.5,1248.0 705.6,1244.1 710.7,1240.3 715.8,1236.6 720.9,1233.0 726.0,1229.4 731.1,1225.9 736.2,1222.5 741.3,1219.1 746.4,1215.8 751.5,1212.5 756.6,1209.4 761.7,1206.2 766.8,1203.1 771.9,1200.1 777.0,1197.1 782.1,1194.2 787.2,1191.4 792.3,1188.5 797.4,1185.8 802.6,1183.0 807.7,1180.4 812.8,1177.7 817.9,1175.1 823.0,1172.6 828.1,1170.1 833.2,1167.6 838.3,1165.2 843.4,1162.8 848.5,1160.4 853.6,1158.1 858.7,1155.8 863.8,1153.6 868.9,1151.4 874.0,1149.2 879.1,1147.0 884.2,1144.9 889.3,1142.8 894.4,1140.8 899.5,1138.8 904.7,1136.8 909.8,1134.8 914.9,1132.9 920.0,1130.9 925.1,1129.1 930.2,1127.2 935.3,1125.4 940.4,1123.6 945.5,1121.8 950.6,1120.0 955.7,1118.3 960.8,1116.6 965.9,1114.9 971.0,1113.2 976.1,1111.6 981.2,1109.9 986.3,1108.3 991.4,1106.7 996.5,1105.2 1001.6,1103.6 1006.8,1102.1 1011.9,1100.6 1017.0,1099.1 1022.1,1097.7 1027.2,1096.2 1032.3,1094.8 1037.4,1093.4 1042.5,1092.0 1047.6,1090.6 1052.7,1089.2 1057.8,1087.9 1062.9,1086.5 1068.0,1085.2 1073.1,1083.9 1078.2,1082.6 1083.3,1081.4 1088.4,1080.1 1093.5,1078.9 1098.6,1077.6 1103.7,1076.4 1108.9,1075.2 1114.0,1074.0 1119.1,1072.8 1124.2,1071.7 1129.3,1070.5 1134.4,1069.4 1139.5,1068.3 1144.6,1067.2 1149.7,1066.1 1154.8,1065.0 1159.9,1063.9 1165.0,1062.8 1170.1,1061.8 1175.2,1060.7 1180.3,1059.7 1185.4,1058.7 1190.5,1057.6 1195.6,1056.6 1200.7,1055.7 1205.8,1054.7"/>
<polyline points="700.5,1248.0 705.6,1246.2 710.7,1244.5 715.8,1242.8 720.9,1241.0 726.0,1239.3 731.1,1237.6 736.2,1235.9 741.3,1234.2 746.4,1232.5 751.5,1230.8 756.6,1229.2 761.7,1227.5 766.8,1225.9 771.9,1224.2 777.0,1222.6 782.1,1220.9 787.2,1219.3 792.3,1217.7 797.4,1216.1 802.6,1214.5 807.7,1212.9 812.8,1211.3 817.9,1209.8 823.0,1208.2 828.1,1206.6 833.2,1205.1 838.3,1203.5 843.4,1202.0 848.5,1200.5 853.6,1198.9 858.7,1197.4 863.8,1195.9 868.9,1194.4 874.0,1192.9 879.1,1191.4 884.2,1189.9 889.3,1188.5 894.4,1187.0 899.5,1185.5 904.7,1184.1 909.8,1182.6 914.9,1181.2 920.0,1179.8 925.1,1178.3 930.2,1176.9 935.3,1175.5 940.4,1174.1 945.5,1172.7 950.6,1171.3 955.7,1169.9 960.8,1168.5 965.9,1167.1 971.0,1165.8 976.1,1164.4 981.2,1163.0 986.3,1161.7 991.4,1160.3 996.5,1159.0 1001.6,1157.7 1006.8,1156.3 1011.9,1155.0 1017.0,1153.7 1022.1,1152.4 1027.2,1151.1 1032.3,1149.8 1037.4,1148.5 1042.5,1147.2 1047.6,1145.9 1052.7,1144.6 1057.8,1143.4 1062.9,1142.1 1068.0,1140.8 1073.1,1139.6 1078.2,1138.3 1083.3,1137.1 1088.4,1135.8 1093.5,1134.6 1098.6,1133.4 1103.7,1132.1 1108.9,1130.9 1114.0,1129.7 1119.1,1128.5 1124.2,1127.3 1129.3,1126.1 1134.4,1124.9 1139.5,1123.7 1144.6,1122.5 1149.7,1121.4 1154.8,1120.2 1159.9,1119.0 1165.0,1117.8 1170.1,1116.7 1175.2,1115.5 1180.3,1114.4 1185.4,1113.2 1190.5,1112.1 1195.6,1111.0 1200.7,1109.8 1205.8,1108.7"/>
<polyline points="700.5,1248.0 705.6,1246.2 710.7,1244.5 715.8,1242.8 720.9,1241.2 726.0,1239.6 731.1,1238.0 736.2,1236.5 741.3,1235.1 746.4,1233.7 751.5,1232.3 756.6,1231.0 761.7,1229.7 766.8,1228.4 771.9,1227.2 777.0,1226.0 782.1,1224.8 787.2,1223.6 792.3,1222.5 797.4,1221.4 802.6,1220.4 807.7,1219.3 812.8,1218.3 817.9,1217.3 823.0,1216.4 828.1,1215.4 833.2,1214.5 838.3,1213.6 843.4,1212.7 848.5,1211.8 853.6,1211.0 858.7,1210.2 863.8,1209.4 868.9,1208.6 874.0,1207.8 879.1,1207.0 884.2,1206.3 889.3,1205.5 894.4,1204.8 899.5,1204.1 904.7,1203.4 909.8,1202.8 914.9,1202.1 920.0,1201.4 925.1,1200.8 930.2,1200.2 935.3,1199.6 940.4,1199.0 945.5,1198.4 950.6,1197.8 955.7,1197.2 960.8,1196.6 965.9,1196.1 971.0,1195.5 976.1,1195.0 981.2,1194.5 986.3,1194.0 991.4,1193.5 996.5,1193.0 1001.6,1192.5 1006.8,1192.0 1011.9,1191.5 1017.0,1191.0 1022.1,1190.6 1027.2,1190.1 1032.3,1189.7 1037.4,1189.2 1042.5,1188.8 1047.6,1188.4 1052.7,1188.0 1057.8,1187.6 1062.9,1187.1 1068.0,1186.7 1073.1,1186.4 1078.2,1186.0 1083.3,1185.6 1088.4,1185.2 1093.5,1184.8 1098.6,1184.5 1103.7,1184.1 1108.9,1183.7 1114.0,1183.4 1119.1,1183.0 1124.2,1182.7 1129.3,1182.4 1134.4,1182.0 1139.5,1181.7 1144.6,1181.4 1149.7,1181.0 1154.8,1180.7 1159.9,1180.4 1165.0,1180.1 1170.1,1179.8 1175.2,1179.5 1180.3,1179.2 1185.4,1178.9 1190.5,1178.6 1195.6,1178.3 1200.7,1178.1 1205.8,1177.8"/>
</g>
<text class="t" x="952.5" y="54" text-anchor="middle">channel=C2</text>
<text class="k" x="700" y="1343.5" text-anchor="middle">0.0</text><text class="k" x="953" y="1343.5" text-anchor="middle">0.5</text><text class="k" x="1205" y="1343.5" text-anchor="middle">1.0</text>
<text class="k" x="953.0" y="1393.8" text-anchor="middle">x</text>
</g>
<g id="panel3">
<rect x="1259" y="70" width="555" height="1234" fill="#eeeeee"/>
<g fill="#ffffff" shape-rendering="crispEdges"><rect x="1283" y="70" width="2" height="1234"/><rect x="1535" y="70" width="2" height="1234"/><rect x="1788" y="70" width="2" height="1234"/><rect x="1259" y="1247" width="555" height="2"/><rect x="1259" y="1058" width="555" height="2"/><rect x="1259" y="869" width="555" height="2"/><rect x="1259" y="679" width="555" height="2"/><rect x="1259" y="490" width="555" height="2"/><rect x="1259" y="301" width="555" height="2"/><rect x="1259" y="112" width="555" height="2"/></g>
<polygon points="1283.9,1248.0 1289.0,1125.0 1294.1,1015.0 1299.2,915.0 1304.3,830.0 1309.4,775.0 1314.5,749.4 1320.3,710.7 1324.4,698.5 1328.5,685.2 1333.1,664.8 1337.7,643.5 1341.8,628.0 1345.9,613.3 1350.6,595.6 1355.2,579.7 1360.4,566.2 1365.7,555.4 1370.3,548.2 1374.9,541.4 1379.5,532.5 1384.2,522.6 1388.9,513.6 1393.5,506.0 1398.2,499.1 1402.8,492.8 1407.4,487.0 1412.1,481.7 1416.7,476.7 1421.3,471.9 1426.7,466.6 1432.0,461.7 1437.3,457.0 1442.7,452.3 1448.0,447.5 1452.6,437.6 1457.7,438.3 1462.7,435.6 1467.7,432.5 1472.9,427.2 1478.2,420.9 1483.3,414.4 1488.7,420.4 1493.9,417.8 1499.1,415.1 1504.9,400.0 1509.1,388.8 1514.2,376.5 1519.3,371.0 1524.6,374.9 1530.5,369.9 1536.4,365.0 1541.2,361.4 1546.1,357.9 1550.9,354.7 1555.8,351.5 1560.6,348.3 1565.2,345.2 1569.9,342.1 1574.5,339.1 1579.1,336.1 1583.7,333.2 1589.2,329.9 1594.7,326.8 1600.2,323.8 1605.7,320.8 1611.2,317.7 1616.3,313.9 1621.5,307.9 1626.7,301.9 1631.6,296.1 1636.7,285.7 1641.8,283.3 1647.1,278.7 1652.2,276.4 1657.2,275.4 1662.3,274.4 1667.3,273.4 1672.2,268.3 1677.3,261.8 1682.4,268.7 1687.5,267.2 1692.6,265.7 1697.7,264.3 1702.7,262.9 1707.8,261.4 1712.9,259.8 1718.0,258.0 1723.0,256.0 1728.3,253.6 1733.5,251.0 1738.7,248.2 1743.9,245.5 1749.0,236.5 1754.0,236.4 1759.0,236.3 1764.8,234.6 1769.7,232.2 1774.6,229.8 1779.5,227.4 1784.4,225.0 1789.3,222.6 1789.3,1182.4 1784.3,1182.8 1779.2,1183.1 1774.2,1183.5 1769.1,1183.8 1764.1,1184.2 1759.1,1184.5 1754.0,1184.9 1749.0,1185.2 1743.9,1192.6 1738.7,1193.1 1733.6,1193.6 1728.5,1194.0 1723.4,1194.5 1718.3,1195.0 1713.1,1195.5 1708.0,1196.0 1702.9,1196.5 1697.8,1196.9 1692.7,1197.4 1687.5,1197.9 1682.4,1198.4 1677.3,1190.3 1672.2,1190.8 1667.2,1191.3 1662.1,1191.9 1657.0,1192.4 1651.9,1192.9 1646.8,1193.5 1641.8,1194.0 1636.7,1194.5 1631.6,1203.3 1626.5,1203.9 1621.4,1204.4 1616.3,1205.0 1611.2,1205.5 1606.1,1206.1 1601.0,1206.6 1595.9,1207.2 1590.8,1207.7 1585.7,1208.3 1580.6,1208.8 1575.5,1209.4 1570.4,1209.9 1565.3,1210.5 1560.3,1211.0 1555.2,1211.6 1550.1,1212.1 1545.0,1212.7 1539.9,1213.2 1534.8,1213.8 1529.7,1214.3 1524.6,1214.9 1519.3,1205.4 1514.2,1204.5 1509.1,1211.4 1503.7,1217.0 1498.7,1217.6 1493.7,1218.2 1488.7,1218.8 1483.3,1210.3 1478.2,1211.2 1473.2,1212.0 1468.2,1212.9 1463.2,1213.7 1458.2,1214.6 1453.1,1215.4 1448.0,1224.2 1442.9,1224.9 1437.8,1225.6 1432.7,1226.3 1427.6,1227.0 1422.5,1227.6 1417.4,1228.3 1412.3,1229.0 1407.2,1229.7 1402.1,1230.4 1397.0,1231.1 1391.6,1230.0 1386.5,1230.4 1381.9,1233.2 1376.6,1234.0 1371.4,1234.7 1366.2,1235.5 1361.0,1236.2 1356.4,1235.8 1351.1,1237.4 1345.9,1235.1 1340.1,1237.9 1335.0,1238.8 1329.9,1239.7 1324.8,1240.7 1319.7,1241.6 1314.6,1242.5 1309.5,1243.4 1304.4,1244.3 1299.2,1245.2 1294.1,1246.2 1289.0,1247.1 1283.9,1248.0" fill="#328c06" fill-opacity="0.25" stroke="#328c06" stroke-opacity="0.25" stroke-width="2.78" stroke-linejoin="miter"/>
<g fill="none" stroke="#328c06" stroke-opacity="0.3" stroke-width="4.17" stroke-linecap="round" stroke-linejoin="round">
<polyline points="1283.9,1248.0 1289.0,1118.4 1294.1,1019.7 1299.2,941.9 1304.3,879.1 1309.4,827.3 1314.5,783.8 1319.6,746.8 1324.7,715.0 1329.8,687.2 1335.0,662.9 1340.1,641.4 1345.2,622.2 1350.3,604.9 1355.4,589.4 1360.5,575.3 1365.6,562.5 1370.7,550.7 1375.8,540.0 1380.9,530.0 1386.0,520.9 1391.1,512.4 1396.2,504.5 1401.3,497.1 1406.4,490.2 1411.5,483.8 1416.6,477.7 1421.7,472.0 1426.8,466.7 1431.9,461.6 1437.1,456.8 1442.2,452.3 1447.3,448.0 1452.4,444.0 1457.5,440.1 1462.6,436.4 1467.7,432.9 1472.8,429.6 1477.9,426.4 1483.0,423.3 1488.1,420.4 1493.2,417.6 1498.3,414.9 1503.4,412.4 1508.5,409.9 1513.6,407.5 1518.7,405.2 1523.8,403.0 1528.9,400.9 1534.0,398.9 1539.2,396.9 1544.3,395.0 1549.4,393.2 1554.5,391.4 1559.6,389.7 1564.7,388.0 1569.8,386.4 1574.9,384.8 1580.0,383.3 1585.1,381.9 1590.2,380.5 1595.3,379.1 1600.4,377.7 1605.5,376.4 1610.6,375.2 1615.7,374.0 1620.8,372.8 1625.9,371.6 1631.0,370.5 1636.1,369.4 1641.3,368.3 1646.4,367.3 1651.5,366.3 1656.6,365.3 1661.7,364.3 1666.8,363.4 1671.9,362.5 1677.0,361.6 1682.1,360.7 1687.2,359.8 1692.3,359.0 1697.4,358.2 1702.5,357.4 1707.6,356.6 1712.7,355.8 1717.8,355.1 1722.9,354.4 1728.0,353.7 1733.1,353.0 1738.2,352.3 1743.4,351.6 1748.5,350.9 1753.6,350.3 1758.7,349.7 1763.8,349.1 1768.9,348.5 1774.0,347.9 1779.1,347.3 1784.2,346.7 1789.3,346.2"/>
<polyline points="1283.9,1248.0 1289.0,1226.4 1294.1,1205.5 1299.2,1185.4 1304.3,1165.9 1309.4,1147.0 1314.5,1128.8 1319.6,1111.1 1324.7,1094.0 1329.8,1077.4 1335.0,1061.3 1340.1,1045.7 1345.2,1030.6 1350.3,1015.9 1355.4,1001.6 1360.5,987.7 1365.6,974.2 1370.7,961.1 1375.8,948.3 1380.9,935.9 1386.0,923.8 1391.1,912.0 1396.2,900.5 1401.3,889.3 1406.4,878.4 1411.5,867.8 1416.6,857.4 1421.7,847.2 1426.8,837.3 1431.9,827.7 1437.1,818.2 1442.2,809.0 1447.3,800.0 1452.4,791.2 1457.5,782.6 1462.6,774.2 1467.7,765.9 1472.8,757.9 1477.9,750.0 1483.0,742.2 1488.1,734.7 1493.2,727.3 1498.3,720.0 1503.4,712.9 1508.5,705.9 1513.6,699.1 1518.7,692.4 1523.8,685.9 1528.9,679.4 1534.0,673.1 1539.2,666.9 1544.3,660.8 1549.4,654.8 1554.5,649.0 1559.6,643.2 1564.7,637.6 1569.8,632.0 1574.9,626.6 1580.0,621.2 1585.1,616.0 1590.2,610.8 1595.3,605.7 1600.4,600.7 1605.5,595.8 1610.6,591.0 1615.7,586.2 1620.8,581.6 1625.9,577.0 1631.0,572.4 1636.1,568.0 1641.3,563.6 1646.4,559.3 1651.5,555.0 1656.6,550.9 1661.7,546.8 1666.8,542.7 1671.9,538.7 1677.0,534.8 1682.1,530.9 1687.2,527.1 1692.3,523.3 1697.4,519.6 1702.5,516.0 1707.6,512.4 1712.7,508.9 1717.8,505.4 1722.9,501.9 1728.0,498.5 1733.1,495.2 1738.2,491.9 1743.4,488.6 1748.5,485.4 1753.6,482.2 1758.7,479.1 1763.8,476.0 1768.9,473.0 1774.0,470.0 1779.1,467.0 1784.2,464.1 1789.3,461.2"/>
<polyline points="1283.9,1248.0 1289.0,1000.3 1294.1,884.9 1299.2,818.2 1304.3,774.7 1309.4,744.1 1314.5,721.4 1319.6,703.9 1324.7,689.9 1329.8,678.6 1335.0,669.2 1340.1,661.3 1345.2,654.5 1350.3,648.7 1355.4,643.6 1360.5,639.1 1365.6,635.1 1370.7,631.5 1375.8,628.3 1380.9,625.4 1386.0,622.8 1391.1,620.4 1396.2,618.2 1401.3,616.2 1406.4,614.3 1411.5,612.6 1416.6,611.0 1421.7,609.5 1426.8,608.1 1431.9,606.8 1437.1,605.6 1442.2,604.5 1447.3,603.4 1452.4,602.4 1457.5,601.4 1462.6,600.5 1467.7,599.7 1472.8,598.9 1477.9,598.1 1483.0,597.4 1488.1,596.7 1493.2,596.0 1498.3,595.4 1503.4,594.8 1508.5,594.2 1513.6,593.6 1518.7,593.1 1523.8,592.6 1528.9,592.1 1534.0,591.6 1539.2,591.2 1544.3,590.7 1549.4,590.3 1554.5,589.9 1559.6,589.5 1564.7,589.1 1569.8,588.8 1574.9,588.4 1580.0,588.1 1585.1,587.8 1590.2,587.5 1595.3,587.2 1600.4,586.9 1605.5,586.6 1610.6,586.3 1615.7,586.0 1620.8,585.8 1625.9,585.5 1631.0,585.3 1636.1,585.0 1641.3,584.8 1646.4,584.6 1651.5,584.3 1656.6,584.1 1661.7,583.9 1666.8,583.7 1671.9,583.5 1677.0,583.3 1682.1,583.1 1687.2,582.9 1692.3,582.8 1697.4,582.6 1702.5,582.4 1707.6,582.2 1712.7,582.1 1717.8,581.9 1722.9,581.8 1728.0,581.6 1733.1,581.5 1738.2,581.3 1743.4,581.2 1748.5,581.0 1753.6,580.9 1758.7,580.8 1763.8,580.6 1768.9,580.5 1774.0,580.4 1779.1,580.3 1784.2,580.1 1789.3,580.0"/>
<polyline points="1283.9,1248.0 1289.0,1210.4 1294.1,1177.0 1299.2,1147.0 1304.3,1120.1 1309.4,1095.6 1314.5,1073.4 1319.6,1053.0 1324.7,1034.4 1329.8,1017.2 1335.0,1001.3 1340.1,986.6 1345.2,973.0 1350.3,960.3 1355.4,948.4 1360.5,937.3 1365.6,926.8 1370.7,917.0 1375.8,907.8 1380.9,899.1 1386.0,890.9 1391.1,883.1 1396.2,875.7 1401.3,868.7 1406.4,862.1 1411.5,855.7 1416.6,849.7 1421.7,844.0 1426.8,838.5 1431.9,833.2 1437.1,828.2 1442.2,823.4 1447.3,818.8 1452.4,814.4 1457.5,810.1 1462.6,806.1 1467.7,802.1 1472.8,798.4 1477.9,794.7 1483.0,791.2 1488.1,787.9 1493.2,784.6 1498.3,781.4 1503.4,778.4 1508.5,775.5 1513.6,772.6 1518.7,769.9 1523.8,767.2 1528.9,764.6 1534.0,762.1 1539.2,759.7 1544.3,757.3 1549.4,755.0 1554.5,752.8 1559.6,750.7 1564.7,748.6 1569.8,746.5 1574.9,744.5 1580.0,742.6 1585.1,740.7 1590.2,738.9 1595.3,737.1 1600.4,735.4 1605.5,733.7 1610.6,732.0 1615.7,730.4 1620.8,728.9 1625.9,727.3 1631.0,725.8 1636.1,724.4 1641.3,722.9 1646.4,721.5 1651.5,720.2 1656.6,718.8 1661.7,717.5 1666.8,716.3 1671.9,715.0 1677.0,713.8 1682.1,712.6 1687.2,711.4 1692.3,710.3 1697.4,709.2 1702.5,708.1 1707.6,707.0 1712.7,705.9 1717.8,704.9 1722.9,703.9 1728.0,702.9 1733.1,701.9 1738.2,701.0 1743.4,700.0 1748.5,699.1 1753.6,698.2 1758.7,697.3 1763.8,696.4 1768.9,695.6 1774.0,694.8 1779.1,693.9 1784.2,693.1 1789.3,692.3"/>
<polyline points="1283.9,1248.0 1289.0,737.0 1294.1,724.7 1299.2,720.4 1304.3,718.3 1309.4,717.0 1314.5,716.1 1319.6,715.5 1324.7,715.0 1329.8,714.6 1335.0,714.4 1340.1,714.1 1345.2,713.9 1350.3,713.7 1355.4,713.6 1360.5,713.5 1365.6,713.4 1370.7,713.3 1375.8,713.2 1380.9,713.1 1386.0,713.0 1391.1,713.0 1396.2,712.9 1401.3,712.9 1406.4,712.8 1411.5,712.8 1416.6,712.7 1421.7,712.7 1426.8,712.7 1431.9,712.6 1437.1,712.6 1442.2,712.6 1447.3,712.5 1452.4,712.5 1457.5,712.5 1462.6,712.5 1467.7,712.4 1472.8,712.4 1477.9,712.4 1483.0,712.4 1488.1,712.4 1493.2,712.4 1498.3,712.3 1503.4,712.3 1508.5,712.3 1513.6,712.3 1518.7,712.3 1523.8,712.3 1528.9,712.3 1534.0,712.3 1539.2,712.2 1544.3,712.2 1549.4,712.2 1554.5,712.2 1559.6,712.2 1564.7,712.2 1569.8,712.2 1574.9,712.2 1580.0,712.2 1585.1,712.2 1590.2,712.2 1595.3,712.1 1600.4,712.1 1605.5,712.1 1610.6,712.1 1615.7,712.1 1620.8,712.1 1625.9,712.1 1631.0,712.1 1636.1,712.1 1641.3,712.1 1646.4,712.1 1651.5,712.1 1656.6,712.1 1661.7,712.1 1666.8,712.1 1671.9,712.1 1677.0,712.1 1682.1,712.1 1687.2,712.0 1692.3,712.0 1697.4,712.0 1702.5,712.0 1707.6,712.0 1712.7,712.0 1717.8,712.0 1722.9,712.0 1728.0,712.0 1733.1,712.0 1738.2,712.0 1743.4,712.0 1748.5,712.0 1753.6,712.0 1758.7,712.0 1763.8,712.0 1768.9,712.0 1774.0,712.0 1779.1,712.0 1784.2,712.0 1789.3,712.0"/>
<polyline points="1283.9,1248.0 1289.0,1232.2 1294.1,1217.1 1299.2,1202.6 1304.3,1188.7 1309.4,1175.4 1314.5,1162.6 1319.6,1150.4 1324.7,1138.6 1329.8,1127.2 1335.0,1116.3 1340.1,1105.8 1345.2,1095.6 1350.3,1085.8 1355.4,1076.4 1360.5,1067.3 1365.6,1058.4 1370.7,1049.9 1375.8,1041.6 1380.9,1033.6 1386.0,1025.9 1391.1,1018.4 1396.2,1011.1 1401.3,1004.0 1406.4,997.2 1411.5,990.5 1416.6,984.0 1421.7,977.8 1426.8,971.6 1431.9,965.7 1437.1,959.9 1442.2,954.3 1447.3,948.8 1452.4,943.5 1457.5,938.3 1462.6,933.2 1467.7,928.3 1472.8,923.5 1477.9,918.8 1483.0,914.2 1488.1,909.7 1493.2,905.3 1498.3,901.1 1503.4,896.9 1508.5,892.8 1513.6,888.8 1518.7,884.9 1523.8,881.1 1528.9,877.4 1534.0,873.8 1539.2,870.2 1544.3,866.7 1549.4,863.3 1554.5,859.9 1559.6,856.7 1564.7,853.4 1569.8,850.3 1574.9,847.2 1580.0,844.2 1585.1,841.2 1590.2,838.3 1595.3,835.4 1600.4,832.6 1605.5,829.9 1610.6,827.2 1615.7,824.5 1620.8,821.9 1625.9,819.4 1631.0,816.9 1636.1,814.4 1641.3,812.0 1646.4,809.6 1651.5,807.3 1656.6,805.0 1661.7,802.7 1666.8,800.5 1671.9,798.3 1677.0,796.2 1682.1,794.1 1687.2,792.0 1692.3,789.9 1697.4,787.9 1702.5,786.0 1707.6,784.0 1712.7,782.1 1717.8,780.2 1722.9,778.3 1728.0,776.5 1733.1,774.7 1738.2,772.9 1743.4,771.2 1748.5,769.5 1753.6,767.8 1758.7,766.1 1763.8,764.4 1768.9,762.8 1774.0,761.2 1779.1,759.6 1784.2,758.1 1789.3,756.5"/>
<polyline points="1283.9,1248.0 1289.0,1240.5 1294.1,1233.2 1299.2,1226.0 1304.3,1218.9 1309.4,1212.0 1314.5,1205.1 1319.6,1198.4 1324.7,1191.8 1329.8,1185.3 1335.0,1178.9 1340.1,1172.7 1345.2,1166.5 1350.3,1160.4 1355.4,1154.4 1360.5,1148.5 1365.6,1142.7 1370.7,1137.0 1375.8,1131.4 1380.9,1125.9 1386.0,1120.5 1391.1,1115.1 1396.2,1109.8 1401.3,1104.6 1406.4,1099.5 1411.5,1094.5 1416.6,1089.5 1421.7,1084.6 1426.8,1079.8 1431.9,1075.0 1437.1,1070.3 1442.2,1065.7 1447.3,1061.1 1452.4,1056.6 1457.5,1052.2 1462.6,1047.8 1467.7,1043.5 1472.8,1039.3 1477.9,1035.1 1483.0,1030.9 1488.1,1026.8 1493.2,1022.8 1498.3,1018.8 1503.4,1014.9 1508.5,1011.0 1513.6,1007.2 1518.7,1003.4 1523.8,999.7 1528.9,996.0 1534.0,992.4 1539.2,988.8 1544.3,985.2 1549.4,981.7 1554.5,978.3 1559.6,974.8 1564.7,971.5 1569.8,968.1 1574.9,964.8 1580.0,961.6 1585.1,958.4 1590.2,955.2 1595.3,952.0 1600.4,948.9 1605.5,945.8 1610.6,942.8 1615.7,939.8 1620.8,936.8 1625.9,933.9 1631.0,931.0 1636.1,928.1 1641.3,925.3 1646.4,922.5 1651.5,919.7 1656.6,917.0 1661.7,914.2 1666.8,911.6 1671.9,908.9 1677.0,906.3 1682.1,903.7 1687.2,901.1 1692.3,898.6 1697.4,896.0 1702.5,893.5 1707.6,891.1 1712.7,888.6 1717.8,886.2 1722.9,883.8 1728.0,881.4 1733.1,879.1 1738.2,876.8 1743.4,874.5 1748.5,872.2 1753.6,869.9 1758.7,867.7 1763.8,865.5 1768.9,863.3 1774.0,861.2 1779.1,859.0 1784.2,856.9 1789.3,854.8"/>
<polyline points="1283.9,1248.0 1289.0,1210.1 1294.1,1178.8 1299.2,1152.6 1304.3,1130.4 1309.4,1111.2 1314.5,1094.6 1319.6,1079.9 1324.7,1067.0 1329.8,1055.5 1335.0,1045.1 1340.1,1035.8 1345.2,1027.4 1350.3,1019.7 1355.4,1012.7 1360.5,1006.2 1365.6,1000.3 1370.7,994.8 1375.8,989.7 1380.9,984.9 1386.0,980.5 1391.1,976.4 1396.2,972.5 1401.3,968.9 1406.4,965.5 1411.5,962.3 1416.6,959.3 1421.7,956.4 1426.8,953.7 1431.9,951.2 1437.1,948.7 1442.2,946.4 1447.3,944.2 1452.4,942.1 1457.5,940.1 1462.6,938.2 1467.7,936.4 1472.8,934.7 1477.9,933.0 1483.0,931.4 1488.1,929.8 1493.2,928.4 1498.3,926.9 1503.4,925.6 1508.5,924.3 1513.6,923.0 1518.7,921.8 1523.8,920.6 1528.9,919.5 1534.0,918.4 1539.2,917.3 1544.3,916.3 1549.4,915.3 1554.5,914.3 1559.6,913.4 1564.7,912.5 1569.8,911.6 1574.9,910.8 1580.0,910.0 1585.1,909.2 1590.2,908.4 1595.3,907.6 1600.4,906.9 1605.5,906.2 1610.6,905.5 1615.7,904.8 1620.8,904.2 1625.9,903.5 1631.0,902.9 1636.1,902.3 1641.3,901.7 1646.4,901.2 1651.5,900.6 1656.6,900.0 1661.7,899.5 1666.8,899.0 1671.9,898.5 1677.0,898.0 1682.1,897.5 1687.2,897.0 1692.3,896.5 1697.4,896.1 1702.5,895.7 1707.6,895.2 1712.7,894.8 1717.8,894.4 1722.9,894.0 1728.0,893.6 1733.1,893.2 1738.2,892.8 1743.4,892.4 1748.5,892.0 1753.6,891.7 1758.7,891.3 1763.8,891.0 1768.9,890.6 1774.0,890.3 1779.1,890.0 1784.2,889.7 1789.3,889.3"/>
<polyline points="1283.9,1248.0 1289.0,1241.3 1294.1,1234.7 1299.2,1228.3 1304.3,1222.0 1309.4,1215.8 1314.5,1209.8 1319.6,1203.9 1324.7,1198.2 1329.8,1192.6 1335.0,1187.1 1340.1,1181.7 1345.2,1176.4 1350.3,1171.2 1355.4,1166.2 1360.5,1161.2 1365.6,1156.4 1370.7,1151.6 1375.8,1146.9 1380.9,1142.3 1386.0,1137.8 1391.1,1133.4 1396.2,1129.1 1401.3,1124.9 1406.4,1120.7 1411.5,1116.6 1416.6,1112.6 1421.7,1108.7 1426.8,1104.8 1431.9,1101.0 1437.1,1097.2 1442.2,1093.6 1447.3,1090.0 1452.4,1086.4 1457.5,1082.9 1462.6,1079.5 1467.7,1076.1 1472.8,1072.8 1477.9,1069.5 1483.0,1066.3 1488.1,1063.2 1493.2,1060.1 1498.3,1057.0 1503.4,1054.0 1508.5,1051.0 1513.6,1048.1 1518.7,1045.3 1523.8,1042.4 1528.9,1039.6 1534.0,1036.9 1539.2,1034.2 1544.3,1031.5 1549.4,1028.9 1554.5,1026.3 1559.6,1023.8 1564.7,1021.3 1569.8,1018.8 1574.9,1016.4 1580.0,1013.9 1585.1,1011.6 1590.2,1009.2 1595.3,1006.9 1600.4,1004.7 1605.5,1002.4 1610.6,1000.2 1615.7,998.0 1620.8,995.9 1625.9,993.7 1631.0,991.6 1636.1,989.6 1641.3,987.5 1646.4,985.5 1651.5,983.5 1656.6,981.5 1661.7,979.6 1666.8,977.7 1671.9,975.8 1677.0,973.9 1682.1,972.1 1687.2,970.2 1692.3,968.4 1697.4,966.7 1702.5,964.9 1707.6,963.2 1712.7,961.4 1717.8,959.7 1722.9,958.1 1728.0,956.4 1733.1,954.8 1738.2,953.1 1743.4,951.5 1748.5,950.0 1753.6,948.4 1758.7,946.9 1763.8,945.3 1768.9,943.8 1774.0,942.3 1779.1,940.8 1784.2,939.4 1789.3,937.9"/>
<polyline points="1283.9,1248.0 1289.0,1246.5 1294.1,1245.0 1299.2,1243.5 1304.3,1242.1 1309.4,1240.7 1314.5,1239.3 1319.6,1238.0 1324.7,1236.7 1329.8,1235.5 1335.0,1234.3 1340.1,1233.1 1345.2,1231.9 1350.3,1230.8 1355.4,1229.7 1360.5,1228.6 1365.6,1227.5 1370.7,1226.5 1375.8,1225.5 1380.9,1224.5 1386.0,1223.5 1391.1,1222.6 1396.2,1221.6 1401.3,1220.7 1406.4,1219.8 1411.5,1219.0 1416.6,1218.1 1421.7,1217.3 1426.8,1216.5 1431.9,1215.7 1437.1,1214.9 1442.2,1214.1 1447.3,1213.4 1452.4,1212.6 1457.5,1211.9 1462.6,1211.2 1467.7,1210.5 1472.8,1209.8 1477.9,1209.1 1483.0,1208.4 1488.1,1207.8 1493.2,1207.2 1498.3,1206.5 1503.4,1205.9 1508.5,1205.3 1513.6,1204.7 1518.7,1204.1 1523.8,1203.5 1528.9,1203.0 1534.0,1202.4 1539.2,1201.9 1544.3,1201.3 1549.4,1200.8 1554.5,1200.3 1559.6,1199.8 1564.7,1199.3 1569.8,1198.8 1574.9,1198.3 1580.0,1197.8 1585.1,1197.3 1590.2,1196.9 1595.3,1196.4 1600.4,1195.9 1605.5,1195.5 1610.6,1195.0 1615.7,1194.6 1620.8,1194.2 1625.9,1193.8 1631.0,1193.4 1636.1,1192.9 1641.3,1192.5 1646.4,1192.1 1651.5,1191.7 1656.6,1191.4 1661.7,1191.0 1666.8,1190.6 1671.9,1190.2 1677.0,1189.9 1682.1,1189.5 1687.2,1189.1 1692.3,1188.8 1697.4,1188.4 1702.5,1188.1 1707.6,1187.8 1712.7,1187.4 1717.8,1187.1 1722.9,1186.8 1728.0,1186.5 1733.1,1186.1 1738.2,1185.8 1743.4,1185.5 1748.5,1185.2 1753.6,1184.9 1758.7,1184.6 1763.8,1184.3 1768.9,1184.0 1774.0,1183.7 1779.1,1183.4 1784.2,1183.2 1789.3,1182.9"/>
</g>
<text class="t" x="1536.0" y="54" text-anchor="middle">channel=C3</text>
<text class="k" x="1284" y="1343.5" text-anchor="middle">0.0</text><text class="k" x="1536" y="1343.5" text-anchor="middle">0.5</text><text class="k" x="1789" y="1343.5" text-anchor="middle">1.0</text>
<text class="k" x="1536.5" y="1393.8" text-anchor="middle">x</text>
</g>
<g id="panel4">
<rect x="1842" y="70" width="556" height="1234" fill="#eeeeee"/>
<g fill="#ffffff" shape-rendering="crispEdges"><rect x="1866" y="70" width="2" height="1234"/><rect x="2119" y="70" width="2" height="1234"/><rect x="2371" y="70" width="2" height="1234"/><rect x="1842" y="1247" width="556" height="2"/><rect x="1842" y="1058" width="556" height="2"/><rect x="1842" y="869" width="556" height="2"/><rect x="1842" y="679" width="556" height="2"/><rect x="1842" y="490" width="556" height="2"/><rect x="1842" y="301" width="556" height="2"/><rect x="1842" y="112" width="556" height="2"/></g>
<polygon points="1867.5,1248.0 1872.6,970.0 1877.7,837.0 1882.8,729.6 1887.9,662.0 1893.0,625.0 1898.2,597.1 1903.9,555.4 1909.7,529.9 1916.2,509.0 1919.5,478.4 1924.5,471.1 1929.5,462.6 1934.7,448.0 1939.9,432.5 1944.9,423.3 1950.0,415.7 1955.0,404.6 1960.2,382.2 1965.4,354.8 1970.3,342.5 1975.4,342.0 1980.5,334.3 1985.6,317.7 1990.9,311.2 1996.0,307.5 2001.0,303.7 2006.1,300.0 2011.2,292.6 2016.5,289.8 2021.1,289.1 2025.8,288.4 2031.6,285.7 2036.9,280.6 2041.7,273.2 2046.5,265.9 2051.3,259.0 2055.9,253.0 2060.6,247.5 2065.2,242.2 2069.8,237.0 2074.1,232.2 2078.5,227.6 2082.8,223.0 2087.9,203.8 2093.0,200.6 2097.7,203.8 2103.0,203.3 2108.1,198.9 2113.2,194.5 2118.5,185.9 2123.7,202.2 2128.8,202.0 2133.9,201.8 2139.0,201.6 2144.1,201.3 2149.2,201.1 2154.3,200.9 2159.4,200.7 2164.5,200.5 2169.7,200.3 2174.8,200.1 2179.9,199.8 2185.0,199.6 2190.1,199.4 2195.2,199.2 2200.0,196.4 2205.1,181.8 2210.3,181.7 2215.5,181.5 2220.7,181.3 2225.8,179.8 2230.9,176.4 2236.0,172.3 2241.1,168.6 2246.2,180.8 2251.3,180.7 2256.4,180.5 2261.4,180.4 2266.5,180.3 2271.5,180.2 2276.6,180.0 2281.7,179.9 2286.7,179.8 2291.8,179.7 2296.8,179.5 2301.9,179.4 2306.6,178.5 2312.2,176.8 2317.7,175.0 2322.8,155.1 2327.8,155.0 2332.9,155.0 2337.9,154.9 2343.0,153.5 2347.9,148.4 2352.9,148.4 2357.9,148.4 2362.9,148.4 2367.9,148.4 2372.8,148.4 2372.8,1188.0 2367.9,1188.5 2362.9,1189.0 2358.0,1189.4 2353.0,1189.9 2347.9,1188.0 2343.0,1189.9 2338.0,1190.3 2332.9,1190.7 2327.9,1191.1 2322.8,1191.5 2317.7,1208.9 2312.6,1209.2 2307.5,1209.6 2302.4,1209.9 2297.3,1210.3 2292.2,1210.6 2287.1,1211.0 2282.0,1211.3 2276.9,1211.6 2271.8,1212.0 2266.7,1212.3 2261.6,1212.7 2256.5,1213.0 2251.4,1213.4 2246.2,1213.7 2241.1,1199.6 2236.0,1200.1 2230.9,1200.6 2225.7,1201.1 2220.6,1201.6 2215.4,1202.1 2210.3,1202.6 2205.1,1203.1 2200.0,1217.7 2194.9,1218.1 2189.8,1218.5 2184.7,1218.9 2179.7,1219.4 2174.6,1219.8 2169.5,1220.2 2164.4,1220.6 2159.3,1221.0 2154.2,1221.4 2149.1,1221.8 2144.0,1222.2 2138.9,1222.7 2133.8,1223.1 2128.7,1223.5 2123.7,1223.9 2118.5,1207.2 2113.2,1212.6 2108.1,1213.3 2102.9,1214.0 2097.7,1214.7 2093.0,1210.5 2087.9,1211.2 2082.8,1228.1 2077.7,1228.5 2072.6,1229.0 2067.5,1229.5 2062.4,1229.9 2057.3,1230.3 2052.2,1230.8 2047.1,1231.2 2042.0,1231.7 2036.9,1232.1 2031.8,1232.6 2026.7,1233.0 2021.6,1233.5 2016.5,1225.3 2011.3,1226.0 2006.2,1226.8 2001.1,1227.5 1995.9,1228.2 1990.8,1229.0 1985.6,1229.7 1980.5,1236.9 1975.4,1237.4 1970.3,1231.8 1965.4,1232.3 1960.1,1239.2 1955.0,1239.7 1949.9,1235.5 1944.8,1236.2 1939.8,1236.9 1934.7,1237.6 1929.6,1238.3 1924.6,1239.0 1919.5,1239.7 1914.4,1243.7 1909.2,1244.2 1904.0,1244.7 1898.7,1245.1 1893.5,1245.6 1888.3,1246.1 1883.1,1246.6 1877.9,1247.0 1872.7,1247.5 1867.5,1248.0" fill="#c10c90" fill-opacity="0.25" stroke="#c10c90" stroke-opacity="0.25" stroke-width="2.78" stroke-linejoin="miter"/>
<g fill="none" stroke="#c10c90" stroke-opacity="0.3" stroke-width="4.17" stroke-linecap="round" stroke-linejoin="round">
<polyline points="1867.5,1248.0 1872.6,1226.8 1877.7,1206.3 1882.8,1186.5 1887.9,1167.3 1893.0,1148.7 1898.1,1130.7 1903.2,1113.3 1908.3,1096.4 1913.4,1080.0 1918.5,1064.1 1923.6,1048.7 1928.7,1033.7 1933.8,1019.1 1938.9,1004.9 1944.0,991.2 1949.1,977.8 1954.2,964.7 1959.3,952.0 1964.4,939.7 1969.6,927.6 1974.7,915.9 1979.8,904.5 1984.9,893.3 1990.0,882.4 1995.1,871.8 2000.2,861.4 2005.3,851.3 2010.4,841.4 2015.5,831.8 2020.6,822.4 2025.7,813.1 2030.8,804.1 2035.9,795.3 2041.0,786.7 2046.1,778.3 2051.2,770.0 2056.3,761.9 2061.4,754.0 2066.5,746.3 2071.7,738.7 2076.8,731.2 2081.9,723.9 2087.0,716.8 2092.1,709.8 2097.2,702.9 2102.3,696.2 2107.4,689.6 2112.5,683.1 2117.6,676.8 2122.7,670.5 2127.8,664.4 2132.9,658.4 2138.0,652.5 2143.1,646.7 2148.2,641.0 2153.3,635.4 2158.4,629.9 2163.5,624.5 2168.6,619.2 2173.8,614.0 2178.9,608.9 2184.0,603.8 2189.1,598.9 2194.2,594.0 2199.3,589.2 2204.4,584.5 2209.5,579.8 2214.6,575.3 2219.7,570.8 2224.8,566.3 2229.9,562.0 2235.0,557.7 2240.1,553.5 2245.2,549.3 2250.3,545.2 2255.4,541.2 2260.5,537.2 2265.6,533.3 2270.7,529.4 2275.9,525.6 2281.0,521.9 2286.1,518.2 2291.2,514.5 2296.3,510.9 2301.4,507.4 2306.5,503.9 2311.6,500.4 2316.7,497.0 2321.8,493.7 2326.9,490.4 2332.0,487.1 2337.1,483.9 2342.2,480.7 2347.3,477.6 2352.4,474.5 2357.5,471.5 2362.6,468.5 2367.7,465.5 2372.8,462.5"/>
<polyline points="1867.5,1248.0 1872.6,1201.2 1877.7,1159.3 1882.8,1121.7 1887.9,1087.6 1893.0,1056.7 1898.1,1028.5 1903.2,1002.6 1908.3,978.8 1913.4,956.8 1918.5,936.5 1923.6,917.7 1928.7,900.1 1933.8,883.7 1938.9,868.4 1944.0,854.0 1949.1,840.5 1954.2,827.9 1959.3,815.9 1964.4,804.6 1969.6,793.9 1974.7,783.8 1979.8,774.2 1984.9,765.1 1990.0,756.4 1995.1,748.1 2000.2,740.2 2005.3,732.7 2010.4,725.5 2015.5,718.7 2020.6,712.1 2025.7,705.8 2030.8,699.8 2035.9,694.0 2041.0,688.4 2046.1,683.0 2051.2,677.9 2056.3,672.9 2061.4,668.1 2066.5,663.5 2071.7,659.1 2076.8,654.8 2081.9,650.6 2087.0,646.6 2092.1,642.7 2097.2,639.0 2102.3,635.3 2107.4,631.8 2112.5,628.4 2117.6,625.1 2122.7,621.9 2127.8,618.8 2132.9,615.7 2138.0,612.8 2143.1,609.9 2148.2,607.2 2153.3,604.5 2158.4,601.8 2163.5,599.3 2168.6,596.8 2173.8,594.4 2178.9,592.0 2184.0,589.7 2189.1,587.4 2194.2,585.3 2199.3,583.1 2204.4,581.0 2209.5,579.0 2214.6,577.0 2219.7,575.1 2224.8,573.2 2229.9,571.3 2235.0,569.5 2240.1,567.7 2245.2,566.0 2250.3,564.3 2255.4,562.7 2260.5,561.0 2265.6,559.4 2270.7,557.9 2275.9,556.4 2281.0,554.9 2286.1,553.4 2291.2,552.0 2296.3,550.6 2301.4,549.2 2306.5,547.9 2311.6,546.5 2316.7,545.2 2321.8,544.0 2326.9,542.7 2332.0,541.5 2337.1,540.3 2342.2,539.1 2347.3,537.9 2352.4,536.8 2357.5,535.7 2362.6,534.6 2367.7,533.5 2372.8,532.4"/>
<polyline points="1867.5,1248.0 1872.6,1167.4 1877.7,1103.8 1882.8,1052.5 1887.9,1010.1 1893.0,974.5 1898.1,944.2 1903.2,918.2 1908.3,895.5 1913.4,875.5 1918.5,857.9 1923.6,842.1 1928.7,828.0 1933.8,815.3 1938.9,803.7 1944.0,793.2 1949.1,783.6 1954.2,774.8 1959.3,766.6 1964.4,759.1 1969.6,752.1 1974.7,745.6 1979.8,739.6 1984.9,733.9 1990.0,728.7 1995.1,723.7 2000.2,719.0 2005.3,714.6 2010.4,710.5 2015.5,706.6 2020.6,702.9 2025.7,699.3 2030.8,696.0 2035.9,692.8 2041.0,689.8 2046.1,686.9 2051.2,684.2 2056.3,681.6 2061.4,679.1 2066.5,676.7 2071.7,674.4 2076.8,672.2 2081.9,670.1 2087.0,668.0 2092.1,666.1 2097.2,664.2 2102.3,662.4 2107.4,660.7 2112.5,659.0 2117.6,657.4 2122.7,655.8 2127.8,654.3 2132.9,652.8 2138.0,651.4 2143.1,650.1 2148.2,648.8 2153.3,647.5 2158.4,646.2 2163.5,645.0 2168.6,643.9 2173.8,642.7 2178.9,641.6 2184.0,640.6 2189.1,639.5 2194.2,638.5 2199.3,637.6 2204.4,636.6 2209.5,635.7 2214.6,634.8 2219.7,633.9 2224.8,633.1 2229.9,632.2 2235.0,631.4 2240.1,630.6 2245.2,629.8 2250.3,629.1 2255.4,628.4 2260.5,627.6 2265.6,626.9 2270.7,626.3 2275.9,625.6 2281.0,624.9 2286.1,624.3 2291.2,623.7 2296.3,623.1 2301.4,622.5 2306.5,621.9 2311.6,621.3 2316.7,620.7 2321.8,620.2 2326.9,619.6 2332.0,619.1 2337.1,618.6 2342.2,618.1 2347.3,617.6 2352.4,617.1 2357.5,616.6 2362.6,616.2 2367.7,615.7 2372.8,615.3"/>
<polyline points="1867.5,1248.0 1872.6,725.7 1877.7,718.8 1882.8,716.4 1887.9,715.3 1893.0,714.6 1898.1,714.1 1903.2,713.8 1908.3,713.5 1913.4,713.3 1918.5,713.1 1923.6,713.0 1928.7,712.9 1933.8,712.8 1938.9,712.7 1944.0,712.7 1949.1,712.6 1954.2,712.6 1959.3,712.5 1964.4,712.5 1969.6,712.4 1974.7,712.4 1979.8,712.4 1984.9,712.3 1990.0,712.3 1995.1,712.3 2000.2,712.3 2005.3,712.2 2010.4,712.2 2015.5,712.2 2020.6,712.2 2025.7,712.2 2030.8,712.2 2035.9,712.1 2041.0,712.1 2046.1,712.1 2051.2,712.1 2056.3,712.1 2061.4,712.1 2066.5,712.1 2071.7,712.1 2076.8,712.1 2081.9,712.1 2087.0,712.0 2092.1,712.0 2097.2,712.0 2102.3,712.0 2107.4,712.0 2112.5,712.0 2117.6,712.0 2122.7,712.0 2127.8,712.0 2132.9,712.0 2138.0,712.0 2143.1,712.0 2148.2,712.0 2153.3,712.0 2158.4,712.0 2163.5,712.0 2168.6,712.0 2173.8,712.0 2178.9,711.9 2184.0,711.9 2189.1,711.9 2194.2,711.9 2199.3,711.9 2204.4,711.9 2209.5,711.9 2214.6,711.9 2219.7,711.9 2224.8,711.9 2229.9,711.9 2235.0,711.9 2240.1,711.9 2245.2,711.9 2250.3,711.9 2255.4,711.9 2260.5,711.9 2265.6,711.9 2270.7,711.9 2275.9,711.9 2281.0,711.9 2286.1,711.9 2291.2,711.9 2296.3,711.9 2301.4,711.9 2306.5,711.9 2311.6,711.9 2316.7,711.9 2321.8,711.9 2326.9,711.9 2332.0,711.9 2337.1,711.9 2342.2,711.9 2347.3,711.9 2352.4,711.9 2357.5,711.9 2362.6,711.9 2367.7,711.9 2372.8,711.9"/>
<polyline points="1867.5,1248.0 1872.6,1204.2 1877.7,1166.6 1882.8,1133.9 1887.9,1105.2 1893.0,1079.9 1898.1,1057.4 1903.2,1037.2 1908.3,1019.0 1913.4,1002.5 1918.5,987.6 1923.6,973.9 1928.7,961.3 1933.8,949.7 1938.9,939.0 1944.0,929.1 1949.1,919.9 1954.2,911.4 1959.3,903.4 1964.4,895.9 1969.6,888.9 1974.7,882.3 1979.8,876.1 1984.9,870.2 1990.0,864.7 1995.1,859.4 2000.2,854.5 2005.3,849.7 2010.4,845.3 2015.5,841.0 2020.6,836.9 2025.7,833.1 2030.8,829.4 2035.9,825.9 2041.0,822.5 2046.1,819.2 2051.2,816.1 2056.3,813.2 2061.4,810.3 2066.5,807.6 2071.7,804.9 2076.8,802.4 2081.9,799.9 2087.0,797.6 2092.1,795.3 2097.2,793.1 2102.3,791.0 2107.4,788.9 2112.5,787.0 2117.6,785.0 2122.7,783.2 2127.8,781.4 2132.9,779.7 2138.0,778.0 2143.1,776.3 2148.2,774.8 2153.3,773.2 2158.4,771.7 2163.5,770.3 2168.6,768.9 2173.8,767.5 2178.9,766.2 2184.0,764.9 2189.1,763.6 2194.2,762.4 2199.3,761.2 2204.4,760.0 2209.5,758.9 2214.6,757.7 2219.7,756.7 2224.8,755.6 2229.9,754.6 2235.0,753.6 2240.1,752.6 2245.2,751.6 2250.3,750.7 2255.4,749.8 2260.5,748.9 2265.6,748.0 2270.7,747.1 2275.9,746.3 2281.0,745.5 2286.1,744.7 2291.2,743.9 2296.3,743.1 2301.4,742.4 2306.5,741.6 2311.6,740.9 2316.7,740.2 2321.8,739.5 2326.9,738.8 2332.0,738.1 2337.1,737.5 2342.2,736.8 2347.3,736.2 2352.4,735.6 2357.5,735.0 2362.6,734.4 2367.7,733.8 2372.8,733.2"/>
<polyline points="1867.5,1248.0 1872.6,1236.2 1877.7,1224.7 1882.8,1213.6 1887.9,1202.9 1893.0,1192.5 1898.1,1182.5 1903.2,1172.7 1908.3,1163.2 1913.4,1154.0 1918.5,1145.1 1923.6,1136.4 1928.7,1128.0 1933.8,1119.8 1938.9,1111.8 1944.0,1104.0 1949.1,1096.5 1954.2,1089.1 1959.3,1081.9 1964.4,1075.0 1969.6,1068.1 1974.7,1061.5 1979.8,1055.0 1984.9,1048.7 1990.0,1042.5 1995.1,1036.5 2000.2,1030.7 2005.3,1024.9 2010.4,1019.3 2015.5,1013.8 2020.6,1008.5 2025.7,1003.2 2030.8,998.1 2035.9,993.1 2041.0,988.2 2046.1,983.4 2051.2,978.7 2056.3,974.1 2061.4,969.6 2066.5,965.1 2071.7,960.8 2076.8,956.6 2081.9,952.4 2087.0,948.3 2092.1,944.3 2097.2,940.4 2102.3,936.6 2107.4,932.8 2112.5,929.1 2117.6,925.4 2122.7,921.9 2127.8,918.4 2132.9,914.9 2138.0,911.6 2143.1,908.2 2148.2,905.0 2153.3,901.8 2158.4,898.6 2163.5,895.5 2168.6,892.5 2173.8,889.5 2178.9,886.5 2184.0,883.6 2189.1,880.8 2194.2,878.0 2199.3,875.2 2204.4,872.5 2209.5,869.9 2214.6,867.2 2219.7,864.7 2224.8,862.1 2229.9,859.6 2235.0,857.1 2240.1,854.7 2245.2,852.3 2250.3,849.9 2255.4,847.6 2260.5,845.3 2265.6,843.1 2270.7,840.9 2275.9,838.7 2281.0,836.5 2286.1,834.4 2291.2,832.3 2296.3,830.2 2301.4,828.2 2306.5,826.1 2311.6,824.2 2316.7,822.2 2321.8,820.3 2326.9,818.4 2332.0,816.5 2337.1,814.6 2342.2,812.8 2347.3,811.0 2352.4,809.2 2357.5,807.4 2362.6,805.7 2367.7,804.0 2372.8,802.3"/>
<polyline points="1867.5,1248.0 1872.6,1241.5 1877.7,1235.2 1882.8,1229.0 1887.9,1222.9 1893.0,1217.0 1898.1,1211.1 1903.2,1205.4 1908.3,1199.8 1913.4,1194.2 1918.5,1188.8 1923.6,1183.5 1928.7,1178.3 1933.8,1173.1 1938.9,1168.1 1944.0,1163.1 1949.1,1158.3 1954.2,1153.5 1959.3,1148.8 1964.4,1144.1 1969.6,1139.6 1974.7,1135.1 1979.8,1130.7 1984.9,1126.4 1990.0,1122.2 1995.1,1118.0 2000.2,1113.9 2005.3,1109.8 2010.4,1105.8 2015.5,1101.9 2020.6,1098.0 2025.7,1094.2 2030.8,1090.5 2035.9,1086.8 2041.0,1083.2 2046.1,1079.6 2051.2,1076.1 2056.3,1072.6 2061.4,1069.2 2066.5,1065.8 2071.7,1062.5 2076.8,1059.2 2081.9,1056.0 2087.0,1052.8 2092.1,1049.6 2097.2,1046.5 2102.3,1043.5 2107.4,1040.5 2112.5,1037.5 2117.6,1034.6 2122.7,1031.7 2127.8,1028.8 2132.9,1026.0 2138.0,1023.3 2143.1,1020.5 2148.2,1017.8 2153.3,1015.1 2158.4,1012.5 2163.5,1009.9 2168.6,1007.3 2173.8,1004.8 2178.9,1002.3 2184.0,999.8 2189.1,997.4 2194.2,995.0 2199.3,992.6 2204.4,990.2 2209.5,987.9 2214.6,985.6 2219.7,983.3 2224.8,981.1 2229.9,978.9 2235.0,976.7 2240.1,974.5 2245.2,972.4 2250.3,970.3 2255.4,968.2 2260.5,966.1 2265.6,964.1 2270.7,962.0 2275.9,960.0 2281.0,958.1 2286.1,956.1 2291.2,954.2 2296.3,952.3 2301.4,950.4 2306.5,948.5 2311.6,946.7 2316.7,944.8 2321.8,943.0 2326.9,941.2 2332.0,939.4 2337.1,937.7 2342.2,936.0 2347.3,934.2 2352.4,932.5 2357.5,930.9 2362.6,929.2 2367.7,927.5 2372.8,925.9"/>
<polyline points="1867.5,1248.0 1872.6,1243.3 1877.7,1238.7 1882.8,1234.1 1887.9,1229.5 1893.0,1225.0 1898.1,1220.5 1903.2,1216.1 1908.3,1211.7 1913.4,1207.4 1918.5,1203.1 1923.6,1198.8 1928.7,1194.5 1933.8,1190.3 1938.9,1186.2 1944.0,1182.1 1949.1,1178.0 1954.2,1173.9 1959.3,1169.9 1964.4,1165.9 1969.6,1161.9 1974.7,1158.0 1979.8,1154.1 1984.9,1150.3 1990.0,1146.5 1995.1,1142.7 2000.2,1138.9 2005.3,1135.2 2010.4,1131.5 2015.5,1127.8 2020.6,1124.2 2025.7,1120.6 2030.8,1117.0 2035.9,1113.5 2041.0,1110.0 2046.1,1106.5 2051.2,1103.0 2056.3,1099.6 2061.4,1096.2 2066.5,1092.8 2071.7,1089.4 2076.8,1086.1 2081.9,1082.8 2087.0,1079.5 2092.1,1076.3 2097.2,1073.0 2102.3,1069.8 2107.4,1066.7 2112.5,1063.5 2117.6,1060.4 2122.7,1057.3 2127.8,1054.2 2132.9,1051.1 2138.0,1048.1 2143.1,1045.1 2148.2,1042.1 2153.3,1039.1 2158.4,1036.2 2163.5,1033.3 2168.6,1030.4 2173.8,1027.5 2178.9,1024.6 2184.0,1021.8 2189.1,1019.0 2194.2,1016.2 2199.3,1013.4 2204.4,1010.6 2209.5,1007.9 2214.6,1005.2 2219.7,1002.5 2224.8,999.8 2229.9,997.1 2235.0,994.5 2240.1,991.8 2245.2,989.2 2250.3,986.6 2255.4,984.1 2260.5,981.5 2265.6,979.0 2270.7,976.5 2275.9,974.0 2281.0,971.5 2286.1,969.0 2291.2,966.6 2296.3,964.1 2301.4,961.7 2306.5,959.3 2311.6,956.9 2316.7,954.5 2321.8,952.2 2326.9,949.8 2332.0,947.5 2337.1,945.2 2342.2,942.9 2347.3,940.6 2352.4,938.4 2357.5,936.1 2362.6,933.9 2367.7,931.7 2372.8,929.4"/>
<polyline points="1867.5,1248.0 1872.6,1243.1 1877.7,1238.4 1882.8,1233.8 1887.9,1229.2 1893.0,1224.8 1898.1,1220.5 1903.2,1216.3 1908.3,1212.2 1913.4,1208.2 1918.5,1204.2 1923.6,1200.4 1928.7,1196.6 1933.8,1192.9 1938.9,1189.3 1944.0,1185.8 1949.1,1182.4 1954.2,1179.0 1959.3,1175.7 1964.4,1172.4 1969.6,1169.2 1974.7,1166.1 1979.8,1163.1 1984.9,1160.1 1990.0,1157.1 1995.1,1154.3 2000.2,1151.4 2005.3,1148.7 2010.4,1145.9 2015.5,1143.3 2020.6,1140.6 2025.7,1138.1 2030.8,1135.5 2035.9,1133.1 2041.0,1130.6 2046.1,1128.2 2051.2,1125.9 2056.3,1123.5 2061.4,1121.3 2066.5,1119.0 2071.7,1116.8 2076.8,1114.7 2081.9,1112.5 2087.0,1110.4 2092.1,1108.4 2097.2,1106.3 2102.3,1104.4 2107.4,1102.4 2112.5,1100.5 2117.6,1098.6 2122.7,1096.7 2127.8,1094.8 2132.9,1093.0 2138.0,1091.2 2143.1,1089.5 2148.2,1087.7 2153.3,1086.0 2158.4,1084.3 2163.5,1082.7 2168.6,1081.0 2173.8,1079.4 2178.9,1077.8 2184.0,1076.3 2189.1,1074.7 2194.2,1073.2 2199.3,1071.7 2204.4,1070.2 2209.5,1068.7 2214.6,1067.3 2219.7,1065.9 2224.8,1064.5 2229.9,1063.1 2235.0,1061.7 2240.1,1060.4 2245.2,1059.0 2250.3,1057.7 2255.4,1056.4 2260.5,1055.1 2265.6,1053.9 2270.7,1052.6 2275.9,1051.4 2281.0,1050.2 2286.1,1049.0 2291.2,1047.8 2296.3,1046.6 2301.4,1045.4 2306.5,1044.3 2311.6,1043.2 2316.7,1042.0 2321.8,1040.9 2326.9,1039.9 2332.0,1038.8 2337.1,1037.7 2342.2,1036.7 2347.3,1035.6 2352.4,1034.6 2357.5,1033.6 2362.6,1032.6 2367.7,1031.6 2372.8,1030.6"/>
<polyline points="1867.5,1248.0 1872.6,1243.1 1877.7,1238.6 1882.8,1234.5 1887.9,1230.6 1893.0,1227.1 1898.1,1223.8 1903.2,1220.7 1908.3,1217.8 1913.4,1215.1 1918.5,1212.6 1923.6,1210.2 1928.7,1208.0 1933.8,1205.9 1938.9,1203.9 1944.0,1202.0 1949.1,1200.2 1954.2,1198.5 1959.3,1196.9 1964.4,1195.4 1969.6,1193.9 1974.7,1192.5 1979.8,1191.2 1984.9,1189.9 1990.0,1188.7 1995.1,1187.5 2000.2,1186.4 2005.3,1185.3 2010.4,1184.3 2015.5,1183.3 2020.6,1182.3 2025.7,1181.4 2030.8,1180.5 2035.9,1179.7 2041.0,1178.8 2046.1,1178.0 2051.2,1177.3 2056.3,1176.5 2061.4,1175.8 2066.5,1175.1 2071.7,1174.5 2076.8,1173.8 2081.9,1173.2 2087.0,1172.6 2092.1,1172.0 2097.2,1171.4 2102.3,1170.8 2107.4,1170.3 2112.5,1169.8 2117.6,1169.3 2122.7,1168.8 2127.8,1168.3 2132.9,1167.8 2138.0,1167.3 2143.1,1166.9 2148.2,1166.5 2153.3,1166.0 2158.4,1165.6 2163.5,1165.2 2168.6,1164.8 2173.8,1164.4 2178.9,1164.1 2184.0,1163.7 2189.1,1163.3 2194.2,1163.0 2199.3,1162.7 2204.4,1162.3 2209.5,1162.0 2214.6,1161.7 2219.7,1161.4 2224.8,1161.1 2229.9,1160.8 2235.0,1160.5 2240.1,1160.2 2245.2,1159.9 2250.3,1159.6 2255.4,1159.4 2260.5,1159.1 2265.6,1158.8 2270.7,1158.6 2275.9,1158.3 2281.0,1158.1 2286.1,1157.9 2291.2,1157.6 2296.3,1157.4 2301.4,1157.2 2306.5,1156.9 2311.6,1156.7 2316.7,1156.5 2321.8,1156.3 2326.9,1156.1 2332.0,1155.9 2337.1,1155.7 2342.2,1155.5 2347.3,1155.3 2352.4,1155.1 2357.5,1154.9 2362.6,1154.8 2367.7,1154.6 2372.8,1154.4"/>
</g>
<text class="t" x="2119.5" y="54" text-anchor="middle">channel=C4</text>
<text class="k" x="1867" y="1343.5" text-anchor="middle">0.0</text><text class="k" x="2120" y="1343.5" text-anchor="middle">0.5</text><text class="k" x="2372" y="1343.5" text-anchor="middle">1.0</text>
<text class="k" x="2120.0" y="1393.8" text-anchor="middle">x</text>
</g>
<g id="yticks"><text class="k" x="81.3" y="1262.8" text-anchor="end">0.0</text><text class="k" x="80.9" y="1073.8" text-anchor="end">0.5</text><text class="k" x="81.4" y="884.0" text-anchor="end">1.0</text><text class="k" x="81.0" y="696.2" text-anchor="end">1.5</text><text class="k" x="82.1" y="505.8" text-anchor="end">2.0</text><text class="k" x="82.3" y="316.6" text-anchor="end">2.5</text><text class="k" x="81.9" y="127.6" text-anchor="end">3.0</text></g>
</svg>
</body></html>
